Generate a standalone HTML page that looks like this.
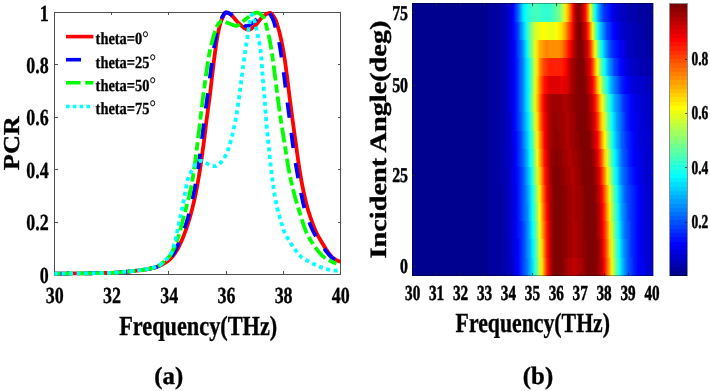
<!DOCTYPE html>
<html><head><meta charset="utf-8"><title>Figure</title>
<style>html,body{margin:0;padding:0;background:#fff;overflow:hidden}svg{display:block;will-change:transform;opacity:0.9999}text{text-rendering:geometricPrecision}</style></head>
<body>
<svg width="710" height="391" viewBox="0 0 710 391">
<rect width="710" height="391" fill="#fff"/>
<defs>
<linearGradient id="r0" x1="0" x2="1" y1="0" y2="0"><stop offset="0.000" stop-color="#00008f"/><stop offset="0.010" stop-color="#00008f"/><stop offset="0.020" stop-color="#00008f"/><stop offset="0.030" stop-color="#00008f"/><stop offset="0.040" stop-color="#00008f"/><stop offset="0.050" stop-color="#00008f"/><stop offset="0.060" stop-color="#00008f"/><stop offset="0.070" stop-color="#00008f"/><stop offset="0.080" stop-color="#00008f"/><stop offset="0.090" stop-color="#00008f"/><stop offset="0.100" stop-color="#00008f"/><stop offset="0.110" stop-color="#00008f"/><stop offset="0.120" stop-color="#00008f"/><stop offset="0.130" stop-color="#00008f"/><stop offset="0.140" stop-color="#00008f"/><stop offset="0.150" stop-color="#00008f"/><stop offset="0.160" stop-color="#00008f"/><stop offset="0.170" stop-color="#00008f"/><stop offset="0.180" stop-color="#00008f"/><stop offset="0.190" stop-color="#00008f"/><stop offset="0.200" stop-color="#00008f"/><stop offset="0.210" stop-color="#00008f"/><stop offset="0.220" stop-color="#00008f"/><stop offset="0.230" stop-color="#00008f"/><stop offset="0.240" stop-color="#00008f"/><stop offset="0.250" stop-color="#00008f"/><stop offset="0.260" stop-color="#00008f"/><stop offset="0.270" stop-color="#00008f"/><stop offset="0.280" stop-color="#00008f"/><stop offset="0.290" stop-color="#00008f"/><stop offset="0.300" stop-color="#00008f"/><stop offset="0.310" stop-color="#00008f"/><stop offset="0.320" stop-color="#00009f"/><stop offset="0.330" stop-color="#00009f"/><stop offset="0.340" stop-color="#00009f"/><stop offset="0.350" stop-color="#00009f"/><stop offset="0.360" stop-color="#00009f"/><stop offset="0.370" stop-color="#00009f"/><stop offset="0.380" stop-color="#0000af"/><stop offset="0.390" stop-color="#0000af"/><stop offset="0.400" stop-color="#0000bf"/><stop offset="0.410" stop-color="#0000bf"/><stop offset="0.420" stop-color="#0000cf"/><stop offset="0.430" stop-color="#0000ef"/><stop offset="0.440" stop-color="#0000ff"/><stop offset="0.450" stop-color="#0020ff"/><stop offset="0.460" stop-color="#0040ff"/><stop offset="0.470" stop-color="#0060ff"/><stop offset="0.480" stop-color="#0080ff"/><stop offset="0.490" stop-color="#00afff"/><stop offset="0.500" stop-color="#00dfff"/><stop offset="0.510" stop-color="#30ffcf"/><stop offset="0.520" stop-color="#70ff8f"/><stop offset="0.530" stop-color="#cfff30"/><stop offset="0.540" stop-color="#ffdf00"/><stop offset="0.550" stop-color="#ff8000"/><stop offset="0.560" stop-color="#ff2000"/><stop offset="0.570" stop-color="#df0000"/><stop offset="0.580" stop-color="#9f0000"/><stop offset="0.590" stop-color="#800000"/><stop offset="0.600" stop-color="#800000"/><stop offset="0.610" stop-color="#800000"/><stop offset="0.620" stop-color="#800000"/><stop offset="0.630" stop-color="#8f0000"/><stop offset="0.640" stop-color="#9f0000"/><stop offset="0.650" stop-color="#af0000"/><stop offset="0.660" stop-color="#af0000"/><stop offset="0.670" stop-color="#bf0000"/><stop offset="0.680" stop-color="#bf0000"/><stop offset="0.690" stop-color="#af0000"/><stop offset="0.700" stop-color="#af0000"/><stop offset="0.710" stop-color="#9f0000"/><stop offset="0.720" stop-color="#8f0000"/><stop offset="0.730" stop-color="#800000"/><stop offset="0.740" stop-color="#800000"/><stop offset="0.750" stop-color="#800000"/><stop offset="0.760" stop-color="#800000"/><stop offset="0.770" stop-color="#8f0000"/><stop offset="0.780" stop-color="#af0000"/><stop offset="0.790" stop-color="#cf0000"/><stop offset="0.800" stop-color="#ff1000"/><stop offset="0.810" stop-color="#ff6000"/><stop offset="0.820" stop-color="#ffaf00"/><stop offset="0.830" stop-color="#efff10"/><stop offset="0.840" stop-color="#9fff60"/><stop offset="0.850" stop-color="#50ffaf"/><stop offset="0.860" stop-color="#10ffef"/><stop offset="0.870" stop-color="#00cfff"/><stop offset="0.880" stop-color="#009fff"/><stop offset="0.890" stop-color="#0070ff"/><stop offset="0.900" stop-color="#0050ff"/><stop offset="0.910" stop-color="#0040ff"/><stop offset="0.920" stop-color="#0020ff"/><stop offset="0.930" stop-color="#0010ff"/><stop offset="0.940" stop-color="#0000ff"/><stop offset="0.950" stop-color="#0000ef"/><stop offset="0.960" stop-color="#0000ef"/><stop offset="0.970" stop-color="#0000df"/><stop offset="0.980" stop-color="#0000cf"/><stop offset="0.990" stop-color="#0000cf"/><stop offset="1.000" stop-color="#0000cf"/></linearGradient>
<linearGradient id="r1" x1="0" x2="1" y1="0" y2="0"><stop offset="0.000" stop-color="#00008f"/><stop offset="0.010" stop-color="#00008f"/><stop offset="0.020" stop-color="#00008f"/><stop offset="0.030" stop-color="#00008f"/><stop offset="0.040" stop-color="#00008f"/><stop offset="0.050" stop-color="#00008f"/><stop offset="0.060" stop-color="#00008f"/><stop offset="0.070" stop-color="#00008f"/><stop offset="0.080" stop-color="#00008f"/><stop offset="0.090" stop-color="#00008f"/><stop offset="0.100" stop-color="#00008f"/><stop offset="0.110" stop-color="#00008f"/><stop offset="0.120" stop-color="#00008f"/><stop offset="0.130" stop-color="#00008f"/><stop offset="0.140" stop-color="#00008f"/><stop offset="0.150" stop-color="#00008f"/><stop offset="0.160" stop-color="#00008f"/><stop offset="0.170" stop-color="#00008f"/><stop offset="0.180" stop-color="#00008f"/><stop offset="0.190" stop-color="#00008f"/><stop offset="0.200" stop-color="#00008f"/><stop offset="0.210" stop-color="#00008f"/><stop offset="0.220" stop-color="#00008f"/><stop offset="0.230" stop-color="#00008f"/><stop offset="0.240" stop-color="#00008f"/><stop offset="0.250" stop-color="#00008f"/><stop offset="0.260" stop-color="#00008f"/><stop offset="0.270" stop-color="#00008f"/><stop offset="0.280" stop-color="#00008f"/><stop offset="0.290" stop-color="#00008f"/><stop offset="0.300" stop-color="#00008f"/><stop offset="0.310" stop-color="#00008f"/><stop offset="0.320" stop-color="#00009f"/><stop offset="0.330" stop-color="#00009f"/><stop offset="0.340" stop-color="#00009f"/><stop offset="0.350" stop-color="#00009f"/><stop offset="0.360" stop-color="#00009f"/><stop offset="0.370" stop-color="#00009f"/><stop offset="0.380" stop-color="#0000af"/><stop offset="0.390" stop-color="#0000af"/><stop offset="0.400" stop-color="#0000bf"/><stop offset="0.410" stop-color="#0000bf"/><stop offset="0.420" stop-color="#0000df"/><stop offset="0.430" stop-color="#0000ef"/><stop offset="0.440" stop-color="#0000ff"/><stop offset="0.450" stop-color="#0020ff"/><stop offset="0.460" stop-color="#0040ff"/><stop offset="0.470" stop-color="#0060ff"/><stop offset="0.480" stop-color="#008fff"/><stop offset="0.490" stop-color="#00afff"/><stop offset="0.500" stop-color="#00efff"/><stop offset="0.510" stop-color="#30ffcf"/><stop offset="0.520" stop-color="#80ff80"/><stop offset="0.530" stop-color="#dfff20"/><stop offset="0.540" stop-color="#ffcf00"/><stop offset="0.550" stop-color="#ff7000"/><stop offset="0.560" stop-color="#ff1000"/><stop offset="0.570" stop-color="#cf0000"/><stop offset="0.580" stop-color="#9f0000"/><stop offset="0.590" stop-color="#800000"/><stop offset="0.600" stop-color="#800000"/><stop offset="0.610" stop-color="#800000"/><stop offset="0.620" stop-color="#800000"/><stop offset="0.630" stop-color="#8f0000"/><stop offset="0.640" stop-color="#8f0000"/><stop offset="0.650" stop-color="#9f0000"/><stop offset="0.660" stop-color="#9f0000"/><stop offset="0.670" stop-color="#af0000"/><stop offset="0.680" stop-color="#af0000"/><stop offset="0.690" stop-color="#9f0000"/><stop offset="0.700" stop-color="#9f0000"/><stop offset="0.710" stop-color="#8f0000"/><stop offset="0.720" stop-color="#8f0000"/><stop offset="0.730" stop-color="#800000"/><stop offset="0.740" stop-color="#800000"/><stop offset="0.750" stop-color="#800000"/><stop offset="0.760" stop-color="#800000"/><stop offset="0.770" stop-color="#8f0000"/><stop offset="0.780" stop-color="#af0000"/><stop offset="0.790" stop-color="#df0000"/><stop offset="0.800" stop-color="#ff2000"/><stop offset="0.810" stop-color="#ff7000"/><stop offset="0.820" stop-color="#ffcf00"/><stop offset="0.830" stop-color="#dfff20"/><stop offset="0.840" stop-color="#8fff70"/><stop offset="0.850" stop-color="#40ffbf"/><stop offset="0.860" stop-color="#00ffff"/><stop offset="0.870" stop-color="#00bfff"/><stop offset="0.880" stop-color="#008fff"/><stop offset="0.890" stop-color="#0070ff"/><stop offset="0.900" stop-color="#0050ff"/><stop offset="0.910" stop-color="#0030ff"/><stop offset="0.920" stop-color="#0020ff"/><stop offset="0.930" stop-color="#0010ff"/><stop offset="0.940" stop-color="#0000ff"/><stop offset="0.950" stop-color="#0000ef"/><stop offset="0.960" stop-color="#0000df"/><stop offset="0.970" stop-color="#0000df"/><stop offset="0.980" stop-color="#0000cf"/><stop offset="0.990" stop-color="#0000cf"/><stop offset="1.000" stop-color="#0000cf"/></linearGradient>
<linearGradient id="r2" x1="0" x2="1" y1="0" y2="0"><stop offset="0.000" stop-color="#00008f"/><stop offset="0.010" stop-color="#00008f"/><stop offset="0.020" stop-color="#00008f"/><stop offset="0.030" stop-color="#00008f"/><stop offset="0.040" stop-color="#00008f"/><stop offset="0.050" stop-color="#00008f"/><stop offset="0.060" stop-color="#00008f"/><stop offset="0.070" stop-color="#00008f"/><stop offset="0.080" stop-color="#00008f"/><stop offset="0.090" stop-color="#00008f"/><stop offset="0.100" stop-color="#00008f"/><stop offset="0.110" stop-color="#00008f"/><stop offset="0.120" stop-color="#00008f"/><stop offset="0.130" stop-color="#00008f"/><stop offset="0.140" stop-color="#00008f"/><stop offset="0.150" stop-color="#00008f"/><stop offset="0.160" stop-color="#00008f"/><stop offset="0.170" stop-color="#00008f"/><stop offset="0.180" stop-color="#00008f"/><stop offset="0.190" stop-color="#00008f"/><stop offset="0.200" stop-color="#00008f"/><stop offset="0.210" stop-color="#00008f"/><stop offset="0.220" stop-color="#00008f"/><stop offset="0.230" stop-color="#00008f"/><stop offset="0.240" stop-color="#00008f"/><stop offset="0.250" stop-color="#00008f"/><stop offset="0.260" stop-color="#00008f"/><stop offset="0.270" stop-color="#00008f"/><stop offset="0.280" stop-color="#00008f"/><stop offset="0.290" stop-color="#00008f"/><stop offset="0.300" stop-color="#00008f"/><stop offset="0.310" stop-color="#00008f"/><stop offset="0.320" stop-color="#00009f"/><stop offset="0.330" stop-color="#00009f"/><stop offset="0.340" stop-color="#00009f"/><stop offset="0.350" stop-color="#00009f"/><stop offset="0.360" stop-color="#00009f"/><stop offset="0.370" stop-color="#00009f"/><stop offset="0.380" stop-color="#0000af"/><stop offset="0.390" stop-color="#0000af"/><stop offset="0.400" stop-color="#0000bf"/><stop offset="0.410" stop-color="#0000cf"/><stop offset="0.420" stop-color="#0000df"/><stop offset="0.430" stop-color="#0000ef"/><stop offset="0.440" stop-color="#0010ff"/><stop offset="0.450" stop-color="#0020ff"/><stop offset="0.460" stop-color="#0040ff"/><stop offset="0.470" stop-color="#0060ff"/><stop offset="0.480" stop-color="#008fff"/><stop offset="0.490" stop-color="#00bfff"/><stop offset="0.500" stop-color="#00ffff"/><stop offset="0.510" stop-color="#40ffbf"/><stop offset="0.520" stop-color="#8fff70"/><stop offset="0.530" stop-color="#efff10"/><stop offset="0.540" stop-color="#ffaf00"/><stop offset="0.550" stop-color="#ff6000"/><stop offset="0.560" stop-color="#ff1000"/><stop offset="0.570" stop-color="#cf0000"/><stop offset="0.580" stop-color="#9f0000"/><stop offset="0.590" stop-color="#800000"/><stop offset="0.600" stop-color="#800000"/><stop offset="0.610" stop-color="#800000"/><stop offset="0.620" stop-color="#800000"/><stop offset="0.630" stop-color="#8f0000"/><stop offset="0.640" stop-color="#8f0000"/><stop offset="0.650" stop-color="#9f0000"/><stop offset="0.660" stop-color="#9f0000"/><stop offset="0.670" stop-color="#af0000"/><stop offset="0.680" stop-color="#af0000"/><stop offset="0.690" stop-color="#9f0000"/><stop offset="0.700" stop-color="#9f0000"/><stop offset="0.710" stop-color="#8f0000"/><stop offset="0.720" stop-color="#800000"/><stop offset="0.730" stop-color="#800000"/><stop offset="0.740" stop-color="#800000"/><stop offset="0.750" stop-color="#800000"/><stop offset="0.760" stop-color="#800000"/><stop offset="0.770" stop-color="#9f0000"/><stop offset="0.780" stop-color="#bf0000"/><stop offset="0.790" stop-color="#ef0000"/><stop offset="0.800" stop-color="#ff3000"/><stop offset="0.810" stop-color="#ff8000"/><stop offset="0.820" stop-color="#ffdf00"/><stop offset="0.830" stop-color="#cfff30"/><stop offset="0.840" stop-color="#70ff8f"/><stop offset="0.850" stop-color="#30ffcf"/><stop offset="0.860" stop-color="#00efff"/><stop offset="0.870" stop-color="#00afff"/><stop offset="0.880" stop-color="#0080ff"/><stop offset="0.890" stop-color="#0060ff"/><stop offset="0.900" stop-color="#0050ff"/><stop offset="0.910" stop-color="#0030ff"/><stop offset="0.920" stop-color="#0020ff"/><stop offset="0.930" stop-color="#0010ff"/><stop offset="0.940" stop-color="#0000ff"/><stop offset="0.950" stop-color="#0000ef"/><stop offset="0.960" stop-color="#0000df"/><stop offset="0.970" stop-color="#0000df"/><stop offset="0.980" stop-color="#0000cf"/><stop offset="0.990" stop-color="#0000cf"/><stop offset="1.000" stop-color="#0000cf"/></linearGradient>
<linearGradient id="r3" x1="0" x2="1" y1="0" y2="0"><stop offset="0.000" stop-color="#00008f"/><stop offset="0.010" stop-color="#00008f"/><stop offset="0.020" stop-color="#00008f"/><stop offset="0.030" stop-color="#00008f"/><stop offset="0.040" stop-color="#00008f"/><stop offset="0.050" stop-color="#00008f"/><stop offset="0.060" stop-color="#00008f"/><stop offset="0.070" stop-color="#00008f"/><stop offset="0.080" stop-color="#00008f"/><stop offset="0.090" stop-color="#00008f"/><stop offset="0.100" stop-color="#00008f"/><stop offset="0.110" stop-color="#00008f"/><stop offset="0.120" stop-color="#00008f"/><stop offset="0.130" stop-color="#00008f"/><stop offset="0.140" stop-color="#00008f"/><stop offset="0.150" stop-color="#00008f"/><stop offset="0.160" stop-color="#00008f"/><stop offset="0.170" stop-color="#00008f"/><stop offset="0.180" stop-color="#00008f"/><stop offset="0.190" stop-color="#00008f"/><stop offset="0.200" stop-color="#00008f"/><stop offset="0.210" stop-color="#00008f"/><stop offset="0.220" stop-color="#00008f"/><stop offset="0.230" stop-color="#00008f"/><stop offset="0.240" stop-color="#00008f"/><stop offset="0.250" stop-color="#00008f"/><stop offset="0.260" stop-color="#00008f"/><stop offset="0.270" stop-color="#00008f"/><stop offset="0.280" stop-color="#00008f"/><stop offset="0.290" stop-color="#00008f"/><stop offset="0.300" stop-color="#00008f"/><stop offset="0.310" stop-color="#00008f"/><stop offset="0.320" stop-color="#00009f"/><stop offset="0.330" stop-color="#00009f"/><stop offset="0.340" stop-color="#00009f"/><stop offset="0.350" stop-color="#00009f"/><stop offset="0.360" stop-color="#00009f"/><stop offset="0.370" stop-color="#00009f"/><stop offset="0.380" stop-color="#0000af"/><stop offset="0.390" stop-color="#0000af"/><stop offset="0.400" stop-color="#0000bf"/><stop offset="0.410" stop-color="#0000cf"/><stop offset="0.420" stop-color="#0000df"/><stop offset="0.430" stop-color="#0000ef"/><stop offset="0.440" stop-color="#0010ff"/><stop offset="0.450" stop-color="#0030ff"/><stop offset="0.460" stop-color="#0050ff"/><stop offset="0.470" stop-color="#0070ff"/><stop offset="0.480" stop-color="#008fff"/><stop offset="0.490" stop-color="#00cfff"/><stop offset="0.500" stop-color="#10ffef"/><stop offset="0.510" stop-color="#50ffaf"/><stop offset="0.520" stop-color="#9fff60"/><stop offset="0.530" stop-color="#ffff00"/><stop offset="0.540" stop-color="#ff9f00"/><stop offset="0.550" stop-color="#ff5000"/><stop offset="0.560" stop-color="#ff0000"/><stop offset="0.570" stop-color="#bf0000"/><stop offset="0.580" stop-color="#9f0000"/><stop offset="0.590" stop-color="#800000"/><stop offset="0.600" stop-color="#800000"/><stop offset="0.610" stop-color="#800000"/><stop offset="0.620" stop-color="#800000"/><stop offset="0.630" stop-color="#8f0000"/><stop offset="0.640" stop-color="#8f0000"/><stop offset="0.650" stop-color="#9f0000"/><stop offset="0.660" stop-color="#9f0000"/><stop offset="0.670" stop-color="#af0000"/><stop offset="0.680" stop-color="#9f0000"/><stop offset="0.690" stop-color="#9f0000"/><stop offset="0.700" stop-color="#9f0000"/><stop offset="0.710" stop-color="#8f0000"/><stop offset="0.720" stop-color="#800000"/><stop offset="0.730" stop-color="#800000"/><stop offset="0.740" stop-color="#800000"/><stop offset="0.750" stop-color="#800000"/><stop offset="0.760" stop-color="#800000"/><stop offset="0.770" stop-color="#9f0000"/><stop offset="0.780" stop-color="#bf0000"/><stop offset="0.790" stop-color="#ff0000"/><stop offset="0.800" stop-color="#ff4000"/><stop offset="0.810" stop-color="#ff9f00"/><stop offset="0.820" stop-color="#ffef00"/><stop offset="0.830" stop-color="#afff50"/><stop offset="0.840" stop-color="#60ff9f"/><stop offset="0.850" stop-color="#20ffdf"/><stop offset="0.860" stop-color="#00dfff"/><stop offset="0.870" stop-color="#009fff"/><stop offset="0.880" stop-color="#0080ff"/><stop offset="0.890" stop-color="#0060ff"/><stop offset="0.900" stop-color="#0040ff"/><stop offset="0.910" stop-color="#0030ff"/><stop offset="0.920" stop-color="#0020ff"/><stop offset="0.930" stop-color="#0010ff"/><stop offset="0.940" stop-color="#0000ff"/><stop offset="0.950" stop-color="#0000ef"/><stop offset="0.960" stop-color="#0000df"/><stop offset="0.970" stop-color="#0000df"/><stop offset="0.980" stop-color="#0000cf"/><stop offset="0.990" stop-color="#0000cf"/><stop offset="1.000" stop-color="#0000cf"/></linearGradient>
<linearGradient id="r4" x1="0" x2="1" y1="0" y2="0"><stop offset="0.000" stop-color="#00008f"/><stop offset="0.010" stop-color="#00008f"/><stop offset="0.020" stop-color="#00008f"/><stop offset="0.030" stop-color="#00008f"/><stop offset="0.040" stop-color="#00008f"/><stop offset="0.050" stop-color="#00008f"/><stop offset="0.060" stop-color="#00008f"/><stop offset="0.070" stop-color="#00008f"/><stop offset="0.080" stop-color="#00008f"/><stop offset="0.090" stop-color="#00008f"/><stop offset="0.100" stop-color="#00008f"/><stop offset="0.110" stop-color="#00008f"/><stop offset="0.120" stop-color="#00008f"/><stop offset="0.130" stop-color="#00008f"/><stop offset="0.140" stop-color="#00008f"/><stop offset="0.150" stop-color="#00008f"/><stop offset="0.160" stop-color="#00008f"/><stop offset="0.170" stop-color="#00008f"/><stop offset="0.180" stop-color="#00008f"/><stop offset="0.190" stop-color="#00008f"/><stop offset="0.200" stop-color="#00008f"/><stop offset="0.210" stop-color="#00008f"/><stop offset="0.220" stop-color="#00008f"/><stop offset="0.230" stop-color="#00008f"/><stop offset="0.240" stop-color="#00008f"/><stop offset="0.250" stop-color="#00008f"/><stop offset="0.260" stop-color="#00008f"/><stop offset="0.270" stop-color="#00008f"/><stop offset="0.280" stop-color="#00008f"/><stop offset="0.290" stop-color="#00008f"/><stop offset="0.300" stop-color="#00008f"/><stop offset="0.310" stop-color="#00008f"/><stop offset="0.320" stop-color="#00009f"/><stop offset="0.330" stop-color="#00009f"/><stop offset="0.340" stop-color="#00009f"/><stop offset="0.350" stop-color="#00009f"/><stop offset="0.360" stop-color="#00009f"/><stop offset="0.370" stop-color="#00009f"/><stop offset="0.380" stop-color="#0000af"/><stop offset="0.390" stop-color="#0000af"/><stop offset="0.400" stop-color="#0000bf"/><stop offset="0.410" stop-color="#0000cf"/><stop offset="0.420" stop-color="#0000df"/><stop offset="0.430" stop-color="#0000ef"/><stop offset="0.440" stop-color="#0010ff"/><stop offset="0.450" stop-color="#0030ff"/><stop offset="0.460" stop-color="#0050ff"/><stop offset="0.470" stop-color="#0070ff"/><stop offset="0.480" stop-color="#009fff"/><stop offset="0.490" stop-color="#00cfff"/><stop offset="0.500" stop-color="#10ffef"/><stop offset="0.510" stop-color="#60ff9f"/><stop offset="0.520" stop-color="#afff50"/><stop offset="0.530" stop-color="#ffef00"/><stop offset="0.540" stop-color="#ff8f00"/><stop offset="0.550" stop-color="#ff4000"/><stop offset="0.560" stop-color="#ef0000"/><stop offset="0.570" stop-color="#bf0000"/><stop offset="0.580" stop-color="#9f0000"/><stop offset="0.590" stop-color="#800000"/><stop offset="0.600" stop-color="#800000"/><stop offset="0.610" stop-color="#800000"/><stop offset="0.620" stop-color="#800000"/><stop offset="0.630" stop-color="#8f0000"/><stop offset="0.640" stop-color="#8f0000"/><stop offset="0.650" stop-color="#9f0000"/><stop offset="0.660" stop-color="#9f0000"/><stop offset="0.670" stop-color="#af0000"/><stop offset="0.680" stop-color="#9f0000"/><stop offset="0.690" stop-color="#9f0000"/><stop offset="0.700" stop-color="#9f0000"/><stop offset="0.710" stop-color="#8f0000"/><stop offset="0.720" stop-color="#800000"/><stop offset="0.730" stop-color="#800000"/><stop offset="0.740" stop-color="#800000"/><stop offset="0.750" stop-color="#800000"/><stop offset="0.760" stop-color="#8f0000"/><stop offset="0.770" stop-color="#af0000"/><stop offset="0.780" stop-color="#cf0000"/><stop offset="0.790" stop-color="#ff1000"/><stop offset="0.800" stop-color="#ff6000"/><stop offset="0.810" stop-color="#ffaf00"/><stop offset="0.820" stop-color="#efff10"/><stop offset="0.830" stop-color="#9fff60"/><stop offset="0.840" stop-color="#50ffaf"/><stop offset="0.850" stop-color="#10ffef"/><stop offset="0.860" stop-color="#00cfff"/><stop offset="0.870" stop-color="#009fff"/><stop offset="0.880" stop-color="#0070ff"/><stop offset="0.890" stop-color="#0050ff"/><stop offset="0.900" stop-color="#0040ff"/><stop offset="0.910" stop-color="#0030ff"/><stop offset="0.920" stop-color="#0020ff"/><stop offset="0.930" stop-color="#0010ff"/><stop offset="0.940" stop-color="#0000ff"/><stop offset="0.950" stop-color="#0000ef"/><stop offset="0.960" stop-color="#0000df"/><stop offset="0.970" stop-color="#0000df"/><stop offset="0.980" stop-color="#0000cf"/><stop offset="0.990" stop-color="#0000cf"/><stop offset="1.000" stop-color="#0000cf"/></linearGradient>
<linearGradient id="r5" x1="0" x2="1" y1="0" y2="0"><stop offset="0.000" stop-color="#00008f"/><stop offset="0.010" stop-color="#00008f"/><stop offset="0.020" stop-color="#00008f"/><stop offset="0.030" stop-color="#00008f"/><stop offset="0.040" stop-color="#00008f"/><stop offset="0.050" stop-color="#00008f"/><stop offset="0.060" stop-color="#00008f"/><stop offset="0.070" stop-color="#00008f"/><stop offset="0.080" stop-color="#00008f"/><stop offset="0.090" stop-color="#00008f"/><stop offset="0.100" stop-color="#00008f"/><stop offset="0.110" stop-color="#00008f"/><stop offset="0.120" stop-color="#00008f"/><stop offset="0.130" stop-color="#00008f"/><stop offset="0.140" stop-color="#00008f"/><stop offset="0.150" stop-color="#00008f"/><stop offset="0.160" stop-color="#00008f"/><stop offset="0.170" stop-color="#00008f"/><stop offset="0.180" stop-color="#00008f"/><stop offset="0.190" stop-color="#00008f"/><stop offset="0.200" stop-color="#00008f"/><stop offset="0.210" stop-color="#00008f"/><stop offset="0.220" stop-color="#00008f"/><stop offset="0.230" stop-color="#00008f"/><stop offset="0.240" stop-color="#00008f"/><stop offset="0.250" stop-color="#00008f"/><stop offset="0.260" stop-color="#00008f"/><stop offset="0.270" stop-color="#00008f"/><stop offset="0.280" stop-color="#00008f"/><stop offset="0.290" stop-color="#00008f"/><stop offset="0.300" stop-color="#00008f"/><stop offset="0.310" stop-color="#00008f"/><stop offset="0.320" stop-color="#00009f"/><stop offset="0.330" stop-color="#00009f"/><stop offset="0.340" stop-color="#00009f"/><stop offset="0.350" stop-color="#00009f"/><stop offset="0.360" stop-color="#00009f"/><stop offset="0.370" stop-color="#0000af"/><stop offset="0.380" stop-color="#0000af"/><stop offset="0.390" stop-color="#0000af"/><stop offset="0.400" stop-color="#0000bf"/><stop offset="0.410" stop-color="#0000cf"/><stop offset="0.420" stop-color="#0000df"/><stop offset="0.430" stop-color="#0000ff"/><stop offset="0.440" stop-color="#0010ff"/><stop offset="0.450" stop-color="#0030ff"/><stop offset="0.460" stop-color="#0050ff"/><stop offset="0.470" stop-color="#0080ff"/><stop offset="0.480" stop-color="#00afff"/><stop offset="0.490" stop-color="#00dfff"/><stop offset="0.500" stop-color="#30ffcf"/><stop offset="0.510" stop-color="#80ff80"/><stop offset="0.520" stop-color="#cfff30"/><stop offset="0.530" stop-color="#ffcf00"/><stop offset="0.540" stop-color="#ff8000"/><stop offset="0.550" stop-color="#ff2000"/><stop offset="0.560" stop-color="#ef0000"/><stop offset="0.570" stop-color="#af0000"/><stop offset="0.580" stop-color="#8f0000"/><stop offset="0.590" stop-color="#800000"/><stop offset="0.600" stop-color="#800000"/><stop offset="0.610" stop-color="#800000"/><stop offset="0.620" stop-color="#8f0000"/><stop offset="0.630" stop-color="#8f0000"/><stop offset="0.640" stop-color="#9f0000"/><stop offset="0.650" stop-color="#9f0000"/><stop offset="0.660" stop-color="#af0000"/><stop offset="0.670" stop-color="#af0000"/><stop offset="0.680" stop-color="#9f0000"/><stop offset="0.690" stop-color="#9f0000"/><stop offset="0.700" stop-color="#8f0000"/><stop offset="0.710" stop-color="#800000"/><stop offset="0.720" stop-color="#800000"/><stop offset="0.730" stop-color="#800000"/><stop offset="0.740" stop-color="#800000"/><stop offset="0.750" stop-color="#800000"/><stop offset="0.760" stop-color="#9f0000"/><stop offset="0.770" stop-color="#bf0000"/><stop offset="0.780" stop-color="#ef0000"/><stop offset="0.790" stop-color="#ff4000"/><stop offset="0.800" stop-color="#ff8f00"/><stop offset="0.810" stop-color="#ffef00"/><stop offset="0.820" stop-color="#bfff40"/><stop offset="0.830" stop-color="#70ff8f"/><stop offset="0.840" stop-color="#20ffdf"/><stop offset="0.850" stop-color="#00efff"/><stop offset="0.860" stop-color="#00afff"/><stop offset="0.870" stop-color="#0080ff"/><stop offset="0.880" stop-color="#0060ff"/><stop offset="0.890" stop-color="#0050ff"/><stop offset="0.900" stop-color="#0030ff"/><stop offset="0.910" stop-color="#0020ff"/><stop offset="0.920" stop-color="#0010ff"/><stop offset="0.930" stop-color="#0000ff"/><stop offset="0.940" stop-color="#0000ef"/><stop offset="0.950" stop-color="#0000df"/><stop offset="0.960" stop-color="#0000df"/><stop offset="0.970" stop-color="#0000cf"/><stop offset="0.980" stop-color="#0000cf"/><stop offset="0.990" stop-color="#0000cf"/><stop offset="1.000" stop-color="#0000cf"/></linearGradient>
<linearGradient id="r6" x1="0" x2="1" y1="0" y2="0"><stop offset="0.000" stop-color="#00008f"/><stop offset="0.010" stop-color="#00008f"/><stop offset="0.020" stop-color="#00008f"/><stop offset="0.030" stop-color="#00008f"/><stop offset="0.040" stop-color="#00008f"/><stop offset="0.050" stop-color="#00008f"/><stop offset="0.060" stop-color="#00008f"/><stop offset="0.070" stop-color="#00008f"/><stop offset="0.080" stop-color="#00008f"/><stop offset="0.090" stop-color="#00008f"/><stop offset="0.100" stop-color="#00008f"/><stop offset="0.110" stop-color="#00008f"/><stop offset="0.120" stop-color="#00008f"/><stop offset="0.130" stop-color="#00008f"/><stop offset="0.140" stop-color="#00008f"/><stop offset="0.150" stop-color="#00008f"/><stop offset="0.160" stop-color="#00008f"/><stop offset="0.170" stop-color="#00008f"/><stop offset="0.180" stop-color="#00008f"/><stop offset="0.190" stop-color="#00008f"/><stop offset="0.200" stop-color="#00008f"/><stop offset="0.210" stop-color="#00008f"/><stop offset="0.220" stop-color="#00008f"/><stop offset="0.230" stop-color="#00008f"/><stop offset="0.240" stop-color="#00008f"/><stop offset="0.250" stop-color="#00008f"/><stop offset="0.260" stop-color="#00008f"/><stop offset="0.270" stop-color="#00008f"/><stop offset="0.280" stop-color="#00008f"/><stop offset="0.290" stop-color="#00008f"/><stop offset="0.300" stop-color="#00008f"/><stop offset="0.310" stop-color="#00008f"/><stop offset="0.320" stop-color="#00009f"/><stop offset="0.330" stop-color="#00009f"/><stop offset="0.340" stop-color="#00009f"/><stop offset="0.350" stop-color="#00009f"/><stop offset="0.360" stop-color="#00009f"/><stop offset="0.370" stop-color="#0000af"/><stop offset="0.380" stop-color="#0000af"/><stop offset="0.390" stop-color="#0000bf"/><stop offset="0.400" stop-color="#0000bf"/><stop offset="0.410" stop-color="#0000cf"/><stop offset="0.420" stop-color="#0000df"/><stop offset="0.430" stop-color="#0000ff"/><stop offset="0.440" stop-color="#0020ff"/><stop offset="0.450" stop-color="#0040ff"/><stop offset="0.460" stop-color="#0060ff"/><stop offset="0.470" stop-color="#008fff"/><stop offset="0.480" stop-color="#00bfff"/><stop offset="0.490" stop-color="#00ffff"/><stop offset="0.500" stop-color="#40ffbf"/><stop offset="0.510" stop-color="#8fff70"/><stop offset="0.520" stop-color="#efff10"/><stop offset="0.530" stop-color="#ffaf00"/><stop offset="0.540" stop-color="#ff6000"/><stop offset="0.550" stop-color="#ff1000"/><stop offset="0.560" stop-color="#df0000"/><stop offset="0.570" stop-color="#af0000"/><stop offset="0.580" stop-color="#8f0000"/><stop offset="0.590" stop-color="#8f0000"/><stop offset="0.600" stop-color="#800000"/><stop offset="0.610" stop-color="#8f0000"/><stop offset="0.620" stop-color="#8f0000"/><stop offset="0.630" stop-color="#9f0000"/><stop offset="0.640" stop-color="#9f0000"/><stop offset="0.650" stop-color="#af0000"/><stop offset="0.660" stop-color="#af0000"/><stop offset="0.670" stop-color="#9f0000"/><stop offset="0.680" stop-color="#9f0000"/><stop offset="0.690" stop-color="#8f0000"/><stop offset="0.700" stop-color="#8f0000"/><stop offset="0.710" stop-color="#800000"/><stop offset="0.720" stop-color="#800000"/><stop offset="0.730" stop-color="#800000"/><stop offset="0.740" stop-color="#800000"/><stop offset="0.750" stop-color="#8f0000"/><stop offset="0.760" stop-color="#af0000"/><stop offset="0.770" stop-color="#df0000"/><stop offset="0.780" stop-color="#ff2000"/><stop offset="0.790" stop-color="#ff7000"/><stop offset="0.800" stop-color="#ffcf00"/><stop offset="0.810" stop-color="#dfff20"/><stop offset="0.820" stop-color="#8fff70"/><stop offset="0.830" stop-color="#40ffbf"/><stop offset="0.840" stop-color="#00ffff"/><stop offset="0.850" stop-color="#00cfff"/><stop offset="0.860" stop-color="#009fff"/><stop offset="0.870" stop-color="#0070ff"/><stop offset="0.880" stop-color="#0050ff"/><stop offset="0.890" stop-color="#0040ff"/><stop offset="0.900" stop-color="#0020ff"/><stop offset="0.910" stop-color="#0010ff"/><stop offset="0.920" stop-color="#0000ff"/><stop offset="0.930" stop-color="#0000ef"/><stop offset="0.940" stop-color="#0000ef"/><stop offset="0.950" stop-color="#0000df"/><stop offset="0.960" stop-color="#0000df"/><stop offset="0.970" stop-color="#0000cf"/><stop offset="0.980" stop-color="#0000cf"/><stop offset="0.990" stop-color="#0000cf"/><stop offset="1.000" stop-color="#0000cf"/></linearGradient>
<linearGradient id="r7" x1="0" x2="1" y1="0" y2="0"><stop offset="0.000" stop-color="#00008f"/><stop offset="0.010" stop-color="#00008f"/><stop offset="0.020" stop-color="#00008f"/><stop offset="0.030" stop-color="#00008f"/><stop offset="0.040" stop-color="#00008f"/><stop offset="0.050" stop-color="#00008f"/><stop offset="0.060" stop-color="#00008f"/><stop offset="0.070" stop-color="#00008f"/><stop offset="0.080" stop-color="#00008f"/><stop offset="0.090" stop-color="#00008f"/><stop offset="0.100" stop-color="#00008f"/><stop offset="0.110" stop-color="#00008f"/><stop offset="0.120" stop-color="#00008f"/><stop offset="0.130" stop-color="#00008f"/><stop offset="0.140" stop-color="#00008f"/><stop offset="0.150" stop-color="#00008f"/><stop offset="0.160" stop-color="#00008f"/><stop offset="0.170" stop-color="#00008f"/><stop offset="0.180" stop-color="#00008f"/><stop offset="0.190" stop-color="#00008f"/><stop offset="0.200" stop-color="#00008f"/><stop offset="0.210" stop-color="#00008f"/><stop offset="0.220" stop-color="#00008f"/><stop offset="0.230" stop-color="#00008f"/><stop offset="0.240" stop-color="#00008f"/><stop offset="0.250" stop-color="#00008f"/><stop offset="0.260" stop-color="#00008f"/><stop offset="0.270" stop-color="#00008f"/><stop offset="0.280" stop-color="#00008f"/><stop offset="0.290" stop-color="#00008f"/><stop offset="0.300" stop-color="#00008f"/><stop offset="0.310" stop-color="#00008f"/><stop offset="0.320" stop-color="#00009f"/><stop offset="0.330" stop-color="#00009f"/><stop offset="0.340" stop-color="#00009f"/><stop offset="0.350" stop-color="#00009f"/><stop offset="0.360" stop-color="#00009f"/><stop offset="0.370" stop-color="#0000af"/><stop offset="0.380" stop-color="#0000af"/><stop offset="0.390" stop-color="#0000bf"/><stop offset="0.400" stop-color="#0000bf"/><stop offset="0.410" stop-color="#0000cf"/><stop offset="0.420" stop-color="#0000ef"/><stop offset="0.430" stop-color="#0000ff"/><stop offset="0.440" stop-color="#0020ff"/><stop offset="0.450" stop-color="#0040ff"/><stop offset="0.460" stop-color="#0070ff"/><stop offset="0.470" stop-color="#009fff"/><stop offset="0.480" stop-color="#00cfff"/><stop offset="0.490" stop-color="#10ffef"/><stop offset="0.500" stop-color="#50ffaf"/><stop offset="0.510" stop-color="#afff50"/><stop offset="0.520" stop-color="#ffef00"/><stop offset="0.530" stop-color="#ff9f00"/><stop offset="0.540" stop-color="#ff5000"/><stop offset="0.550" stop-color="#ff0000"/><stop offset="0.560" stop-color="#cf0000"/><stop offset="0.570" stop-color="#af0000"/><stop offset="0.580" stop-color="#9f0000"/><stop offset="0.590" stop-color="#8f0000"/><stop offset="0.600" stop-color="#8f0000"/><stop offset="0.610" stop-color="#8f0000"/><stop offset="0.620" stop-color="#9f0000"/><stop offset="0.630" stop-color="#9f0000"/><stop offset="0.640" stop-color="#af0000"/><stop offset="0.650" stop-color="#af0000"/><stop offset="0.660" stop-color="#9f0000"/><stop offset="0.670" stop-color="#9f0000"/><stop offset="0.680" stop-color="#8f0000"/><stop offset="0.690" stop-color="#8f0000"/><stop offset="0.700" stop-color="#800000"/><stop offset="0.710" stop-color="#800000"/><stop offset="0.720" stop-color="#800000"/><stop offset="0.730" stop-color="#800000"/><stop offset="0.740" stop-color="#8f0000"/><stop offset="0.750" stop-color="#af0000"/><stop offset="0.760" stop-color="#cf0000"/><stop offset="0.770" stop-color="#ff0000"/><stop offset="0.780" stop-color="#ff5000"/><stop offset="0.790" stop-color="#ffaf00"/><stop offset="0.800" stop-color="#ffff00"/><stop offset="0.810" stop-color="#afff50"/><stop offset="0.820" stop-color="#60ff9f"/><stop offset="0.830" stop-color="#20ffdf"/><stop offset="0.840" stop-color="#00dfff"/><stop offset="0.850" stop-color="#00afff"/><stop offset="0.860" stop-color="#008fff"/><stop offset="0.870" stop-color="#0060ff"/><stop offset="0.880" stop-color="#0050ff"/><stop offset="0.890" stop-color="#0030ff"/><stop offset="0.900" stop-color="#0020ff"/><stop offset="0.910" stop-color="#0010ff"/><stop offset="0.920" stop-color="#0000ff"/><stop offset="0.930" stop-color="#0000ef"/><stop offset="0.940" stop-color="#0000df"/><stop offset="0.950" stop-color="#0000df"/><stop offset="0.960" stop-color="#0000cf"/><stop offset="0.970" stop-color="#0000cf"/><stop offset="0.980" stop-color="#0000cf"/><stop offset="0.990" stop-color="#0000cf"/><stop offset="1.000" stop-color="#0000bf"/></linearGradient>
<linearGradient id="r8" x1="0" x2="1" y1="0" y2="0"><stop offset="0.000" stop-color="#00008f"/><stop offset="0.010" stop-color="#00008f"/><stop offset="0.020" stop-color="#00008f"/><stop offset="0.030" stop-color="#00008f"/><stop offset="0.040" stop-color="#00008f"/><stop offset="0.050" stop-color="#00008f"/><stop offset="0.060" stop-color="#00008f"/><stop offset="0.070" stop-color="#00008f"/><stop offset="0.080" stop-color="#00008f"/><stop offset="0.090" stop-color="#00008f"/><stop offset="0.100" stop-color="#00008f"/><stop offset="0.110" stop-color="#00008f"/><stop offset="0.120" stop-color="#00008f"/><stop offset="0.130" stop-color="#00008f"/><stop offset="0.140" stop-color="#00008f"/><stop offset="0.150" stop-color="#00008f"/><stop offset="0.160" stop-color="#00008f"/><stop offset="0.170" stop-color="#00008f"/><stop offset="0.180" stop-color="#00008f"/><stop offset="0.190" stop-color="#00008f"/><stop offset="0.200" stop-color="#00008f"/><stop offset="0.210" stop-color="#00008f"/><stop offset="0.220" stop-color="#00008f"/><stop offset="0.230" stop-color="#00008f"/><stop offset="0.240" stop-color="#00008f"/><stop offset="0.250" stop-color="#00008f"/><stop offset="0.260" stop-color="#00008f"/><stop offset="0.270" stop-color="#00008f"/><stop offset="0.280" stop-color="#00008f"/><stop offset="0.290" stop-color="#00008f"/><stop offset="0.300" stop-color="#00008f"/><stop offset="0.310" stop-color="#00008f"/><stop offset="0.320" stop-color="#00009f"/><stop offset="0.330" stop-color="#00009f"/><stop offset="0.340" stop-color="#00009f"/><stop offset="0.350" stop-color="#00009f"/><stop offset="0.360" stop-color="#00009f"/><stop offset="0.370" stop-color="#0000af"/><stop offset="0.380" stop-color="#0000af"/><stop offset="0.390" stop-color="#0000bf"/><stop offset="0.400" stop-color="#0000bf"/><stop offset="0.410" stop-color="#0000cf"/><stop offset="0.420" stop-color="#0000ef"/><stop offset="0.430" stop-color="#0010ff"/><stop offset="0.440" stop-color="#0030ff"/><stop offset="0.450" stop-color="#0050ff"/><stop offset="0.460" stop-color="#0080ff"/><stop offset="0.470" stop-color="#00afff"/><stop offset="0.480" stop-color="#00dfff"/><stop offset="0.490" stop-color="#20ffdf"/><stop offset="0.500" stop-color="#70ff8f"/><stop offset="0.510" stop-color="#cfff30"/><stop offset="0.520" stop-color="#ffdf00"/><stop offset="0.530" stop-color="#ff8000"/><stop offset="0.540" stop-color="#ff3000"/><stop offset="0.550" stop-color="#ff0000"/><stop offset="0.560" stop-color="#cf0000"/><stop offset="0.570" stop-color="#af0000"/><stop offset="0.580" stop-color="#9f0000"/><stop offset="0.590" stop-color="#8f0000"/><stop offset="0.600" stop-color="#8f0000"/><stop offset="0.610" stop-color="#9f0000"/><stop offset="0.620" stop-color="#9f0000"/><stop offset="0.630" stop-color="#9f0000"/><stop offset="0.640" stop-color="#af0000"/><stop offset="0.650" stop-color="#af0000"/><stop offset="0.660" stop-color="#9f0000"/><stop offset="0.670" stop-color="#9f0000"/><stop offset="0.680" stop-color="#8f0000"/><stop offset="0.690" stop-color="#800000"/><stop offset="0.700" stop-color="#800000"/><stop offset="0.710" stop-color="#800000"/><stop offset="0.720" stop-color="#800000"/><stop offset="0.730" stop-color="#8f0000"/><stop offset="0.740" stop-color="#9f0000"/><stop offset="0.750" stop-color="#bf0000"/><stop offset="0.760" stop-color="#ef0000"/><stop offset="0.770" stop-color="#ff3000"/><stop offset="0.780" stop-color="#ff8f00"/><stop offset="0.790" stop-color="#ffdf00"/><stop offset="0.800" stop-color="#cfff30"/><stop offset="0.810" stop-color="#80ff80"/><stop offset="0.820" stop-color="#40ffbf"/><stop offset="0.830" stop-color="#00ffff"/><stop offset="0.840" stop-color="#00cfff"/><stop offset="0.850" stop-color="#009fff"/><stop offset="0.860" stop-color="#0080ff"/><stop offset="0.870" stop-color="#0060ff"/><stop offset="0.880" stop-color="#0040ff"/><stop offset="0.890" stop-color="#0020ff"/><stop offset="0.900" stop-color="#0010ff"/><stop offset="0.910" stop-color="#0000ff"/><stop offset="0.920" stop-color="#0000ef"/><stop offset="0.930" stop-color="#0000ef"/><stop offset="0.940" stop-color="#0000df"/><stop offset="0.950" stop-color="#0000df"/><stop offset="0.960" stop-color="#0000cf"/><stop offset="0.970" stop-color="#0000cf"/><stop offset="0.980" stop-color="#0000cf"/><stop offset="0.990" stop-color="#0000bf"/><stop offset="1.000" stop-color="#0000bf"/></linearGradient>
<linearGradient id="r9" x1="0" x2="1" y1="0" y2="0"><stop offset="0.000" stop-color="#00008f"/><stop offset="0.010" stop-color="#00008f"/><stop offset="0.020" stop-color="#00008f"/><stop offset="0.030" stop-color="#00008f"/><stop offset="0.040" stop-color="#00008f"/><stop offset="0.050" stop-color="#00008f"/><stop offset="0.060" stop-color="#00008f"/><stop offset="0.070" stop-color="#00008f"/><stop offset="0.080" stop-color="#00008f"/><stop offset="0.090" stop-color="#00008f"/><stop offset="0.100" stop-color="#00008f"/><stop offset="0.110" stop-color="#00008f"/><stop offset="0.120" stop-color="#00008f"/><stop offset="0.130" stop-color="#00008f"/><stop offset="0.140" stop-color="#00008f"/><stop offset="0.150" stop-color="#00008f"/><stop offset="0.160" stop-color="#00008f"/><stop offset="0.170" stop-color="#00008f"/><stop offset="0.180" stop-color="#00008f"/><stop offset="0.190" stop-color="#00008f"/><stop offset="0.200" stop-color="#00008f"/><stop offset="0.210" stop-color="#00008f"/><stop offset="0.220" stop-color="#00008f"/><stop offset="0.230" stop-color="#00008f"/><stop offset="0.240" stop-color="#00008f"/><stop offset="0.250" stop-color="#00008f"/><stop offset="0.260" stop-color="#00008f"/><stop offset="0.270" stop-color="#00008f"/><stop offset="0.280" stop-color="#00008f"/><stop offset="0.290" stop-color="#00008f"/><stop offset="0.300" stop-color="#00008f"/><stop offset="0.310" stop-color="#00008f"/><stop offset="0.320" stop-color="#00009f"/><stop offset="0.330" stop-color="#00009f"/><stop offset="0.340" stop-color="#00009f"/><stop offset="0.350" stop-color="#00009f"/><stop offset="0.360" stop-color="#00009f"/><stop offset="0.370" stop-color="#0000af"/><stop offset="0.380" stop-color="#0000af"/><stop offset="0.390" stop-color="#0000bf"/><stop offset="0.400" stop-color="#0000cf"/><stop offset="0.410" stop-color="#0000df"/><stop offset="0.420" stop-color="#0000ef"/><stop offset="0.430" stop-color="#0010ff"/><stop offset="0.440" stop-color="#0030ff"/><stop offset="0.450" stop-color="#0060ff"/><stop offset="0.460" stop-color="#0080ff"/><stop offset="0.470" stop-color="#00bfff"/><stop offset="0.480" stop-color="#00efff"/><stop offset="0.490" stop-color="#40ffbf"/><stop offset="0.500" stop-color="#8fff70"/><stop offset="0.510" stop-color="#dfff20"/><stop offset="0.520" stop-color="#ffbf00"/><stop offset="0.530" stop-color="#ff7000"/><stop offset="0.540" stop-color="#ff2000"/><stop offset="0.550" stop-color="#ef0000"/><stop offset="0.560" stop-color="#bf0000"/><stop offset="0.570" stop-color="#af0000"/><stop offset="0.580" stop-color="#9f0000"/><stop offset="0.590" stop-color="#9f0000"/><stop offset="0.600" stop-color="#9f0000"/><stop offset="0.610" stop-color="#9f0000"/><stop offset="0.620" stop-color="#9f0000"/><stop offset="0.630" stop-color="#af0000"/><stop offset="0.640" stop-color="#af0000"/><stop offset="0.650" stop-color="#9f0000"/><stop offset="0.660" stop-color="#9f0000"/><stop offset="0.670" stop-color="#8f0000"/><stop offset="0.680" stop-color="#8f0000"/><stop offset="0.690" stop-color="#800000"/><stop offset="0.700" stop-color="#800000"/><stop offset="0.710" stop-color="#800000"/><stop offset="0.720" stop-color="#800000"/><stop offset="0.730" stop-color="#8f0000"/><stop offset="0.740" stop-color="#af0000"/><stop offset="0.750" stop-color="#cf0000"/><stop offset="0.760" stop-color="#ff1000"/><stop offset="0.770" stop-color="#ff6000"/><stop offset="0.780" stop-color="#ffbf00"/><stop offset="0.790" stop-color="#efff10"/><stop offset="0.800" stop-color="#9fff60"/><stop offset="0.810" stop-color="#50ffaf"/><stop offset="0.820" stop-color="#20ffdf"/><stop offset="0.830" stop-color="#00dfff"/><stop offset="0.840" stop-color="#00afff"/><stop offset="0.850" stop-color="#008fff"/><stop offset="0.860" stop-color="#0070ff"/><stop offset="0.870" stop-color="#0050ff"/><stop offset="0.880" stop-color="#0030ff"/><stop offset="0.890" stop-color="#0020ff"/><stop offset="0.900" stop-color="#0010ff"/><stop offset="0.910" stop-color="#0000ff"/><stop offset="0.920" stop-color="#0000ef"/><stop offset="0.930" stop-color="#0000df"/><stop offset="0.940" stop-color="#0000df"/><stop offset="0.950" stop-color="#0000cf"/><stop offset="0.960" stop-color="#0000cf"/><stop offset="0.970" stop-color="#0000cf"/><stop offset="0.980" stop-color="#0000cf"/><stop offset="0.990" stop-color="#0000bf"/><stop offset="1.000" stop-color="#0000bf"/></linearGradient>
<linearGradient id="r10" x1="0" x2="1" y1="0" y2="0"><stop offset="0.000" stop-color="#00008f"/><stop offset="0.010" stop-color="#00008f"/><stop offset="0.020" stop-color="#00008f"/><stop offset="0.030" stop-color="#00008f"/><stop offset="0.040" stop-color="#00008f"/><stop offset="0.050" stop-color="#00008f"/><stop offset="0.060" stop-color="#00008f"/><stop offset="0.070" stop-color="#00008f"/><stop offset="0.080" stop-color="#00008f"/><stop offset="0.090" stop-color="#00008f"/><stop offset="0.100" stop-color="#00008f"/><stop offset="0.110" stop-color="#00008f"/><stop offset="0.120" stop-color="#00008f"/><stop offset="0.130" stop-color="#00008f"/><stop offset="0.140" stop-color="#00008f"/><stop offset="0.150" stop-color="#00008f"/><stop offset="0.160" stop-color="#00008f"/><stop offset="0.170" stop-color="#00008f"/><stop offset="0.180" stop-color="#00008f"/><stop offset="0.190" stop-color="#00008f"/><stop offset="0.200" stop-color="#00008f"/><stop offset="0.210" stop-color="#00008f"/><stop offset="0.220" stop-color="#00008f"/><stop offset="0.230" stop-color="#00008f"/><stop offset="0.240" stop-color="#00008f"/><stop offset="0.250" stop-color="#00008f"/><stop offset="0.260" stop-color="#00008f"/><stop offset="0.270" stop-color="#00008f"/><stop offset="0.280" stop-color="#00008f"/><stop offset="0.290" stop-color="#00008f"/><stop offset="0.300" stop-color="#00008f"/><stop offset="0.310" stop-color="#00008f"/><stop offset="0.320" stop-color="#00009f"/><stop offset="0.330" stop-color="#00009f"/><stop offset="0.340" stop-color="#00009f"/><stop offset="0.350" stop-color="#00009f"/><stop offset="0.360" stop-color="#00009f"/><stop offset="0.370" stop-color="#0000af"/><stop offset="0.380" stop-color="#0000af"/><stop offset="0.390" stop-color="#0000bf"/><stop offset="0.400" stop-color="#0000cf"/><stop offset="0.410" stop-color="#0000df"/><stop offset="0.420" stop-color="#0000ef"/><stop offset="0.430" stop-color="#0010ff"/><stop offset="0.440" stop-color="#0030ff"/><stop offset="0.450" stop-color="#0060ff"/><stop offset="0.460" stop-color="#0080ff"/><stop offset="0.470" stop-color="#00bfff"/><stop offset="0.480" stop-color="#00efff"/><stop offset="0.490" stop-color="#30ffcf"/><stop offset="0.500" stop-color="#80ff80"/><stop offset="0.510" stop-color="#dfff20"/><stop offset="0.520" stop-color="#ffcf00"/><stop offset="0.530" stop-color="#ff8000"/><stop offset="0.540" stop-color="#ff4000"/><stop offset="0.550" stop-color="#ff1000"/><stop offset="0.560" stop-color="#ff0000"/><stop offset="0.570" stop-color="#df0000"/><stop offset="0.580" stop-color="#df0000"/><stop offset="0.590" stop-color="#df0000"/><stop offset="0.600" stop-color="#df0000"/><stop offset="0.610" stop-color="#df0000"/><stop offset="0.620" stop-color="#ef0000"/><stop offset="0.630" stop-color="#df0000"/><stop offset="0.640" stop-color="#df0000"/><stop offset="0.650" stop-color="#cf0000"/><stop offset="0.660" stop-color="#af0000"/><stop offset="0.670" stop-color="#9f0000"/><stop offset="0.680" stop-color="#8f0000"/><stop offset="0.690" stop-color="#800000"/><stop offset="0.700" stop-color="#800000"/><stop offset="0.710" stop-color="#800000"/><stop offset="0.720" stop-color="#8f0000"/><stop offset="0.730" stop-color="#af0000"/><stop offset="0.740" stop-color="#cf0000"/><stop offset="0.750" stop-color="#ff0000"/><stop offset="0.760" stop-color="#ff5000"/><stop offset="0.770" stop-color="#ffbf00"/><stop offset="0.780" stop-color="#efff10"/><stop offset="0.790" stop-color="#8fff70"/><stop offset="0.800" stop-color="#50ffaf"/><stop offset="0.810" stop-color="#10ffef"/><stop offset="0.820" stop-color="#00cfff"/><stop offset="0.830" stop-color="#009fff"/><stop offset="0.840" stop-color="#0080ff"/><stop offset="0.850" stop-color="#0060ff"/><stop offset="0.860" stop-color="#0040ff"/><stop offset="0.870" stop-color="#0020ff"/><stop offset="0.880" stop-color="#0010ff"/><stop offset="0.890" stop-color="#0000ff"/><stop offset="0.900" stop-color="#0000ef"/><stop offset="0.910" stop-color="#0000df"/><stop offset="0.920" stop-color="#0000df"/><stop offset="0.930" stop-color="#0000cf"/><stop offset="0.940" stop-color="#0000cf"/><stop offset="0.950" stop-color="#0000cf"/><stop offset="0.960" stop-color="#0000cf"/><stop offset="0.970" stop-color="#0000bf"/><stop offset="0.980" stop-color="#0000bf"/><stop offset="0.990" stop-color="#0000bf"/><stop offset="1.000" stop-color="#0000bf"/></linearGradient>
<linearGradient id="r11" x1="0" x2="1" y1="0" y2="0"><stop offset="0.000" stop-color="#00008f"/><stop offset="0.010" stop-color="#00008f"/><stop offset="0.020" stop-color="#00008f"/><stop offset="0.030" stop-color="#00008f"/><stop offset="0.040" stop-color="#00008f"/><stop offset="0.050" stop-color="#00008f"/><stop offset="0.060" stop-color="#00008f"/><stop offset="0.070" stop-color="#00008f"/><stop offset="0.080" stop-color="#00008f"/><stop offset="0.090" stop-color="#00008f"/><stop offset="0.100" stop-color="#00008f"/><stop offset="0.110" stop-color="#00008f"/><stop offset="0.120" stop-color="#00008f"/><stop offset="0.130" stop-color="#00008f"/><stop offset="0.140" stop-color="#00008f"/><stop offset="0.150" stop-color="#00008f"/><stop offset="0.160" stop-color="#00008f"/><stop offset="0.170" stop-color="#00008f"/><stop offset="0.180" stop-color="#00008f"/><stop offset="0.190" stop-color="#00008f"/><stop offset="0.200" stop-color="#00008f"/><stop offset="0.210" stop-color="#00008f"/><stop offset="0.220" stop-color="#00008f"/><stop offset="0.230" stop-color="#00008f"/><stop offset="0.240" stop-color="#00008f"/><stop offset="0.250" stop-color="#00008f"/><stop offset="0.260" stop-color="#00008f"/><stop offset="0.270" stop-color="#00008f"/><stop offset="0.280" stop-color="#00008f"/><stop offset="0.290" stop-color="#00008f"/><stop offset="0.300" stop-color="#00008f"/><stop offset="0.310" stop-color="#00008f"/><stop offset="0.320" stop-color="#00009f"/><stop offset="0.330" stop-color="#00009f"/><stop offset="0.340" stop-color="#00009f"/><stop offset="0.350" stop-color="#00009f"/><stop offset="0.360" stop-color="#00009f"/><stop offset="0.370" stop-color="#0000af"/><stop offset="0.380" stop-color="#0000af"/><stop offset="0.390" stop-color="#0000bf"/><stop offset="0.400" stop-color="#0000cf"/><stop offset="0.410" stop-color="#0000df"/><stop offset="0.420" stop-color="#0000ef"/><stop offset="0.430" stop-color="#0010ff"/><stop offset="0.440" stop-color="#0030ff"/><stop offset="0.450" stop-color="#0060ff"/><stop offset="0.460" stop-color="#0080ff"/><stop offset="0.470" stop-color="#00bfff"/><stop offset="0.480" stop-color="#00efff"/><stop offset="0.490" stop-color="#30ffcf"/><stop offset="0.500" stop-color="#80ff80"/><stop offset="0.510" stop-color="#cfff30"/><stop offset="0.520" stop-color="#ffdf00"/><stop offset="0.530" stop-color="#ff8f00"/><stop offset="0.540" stop-color="#ff6000"/><stop offset="0.550" stop-color="#ff4000"/><stop offset="0.560" stop-color="#ff3000"/><stop offset="0.570" stop-color="#ff2000"/><stop offset="0.580" stop-color="#ff2000"/><stop offset="0.590" stop-color="#ff2000"/><stop offset="0.600" stop-color="#ff2000"/><stop offset="0.610" stop-color="#ff2000"/><stop offset="0.620" stop-color="#ff2000"/><stop offset="0.630" stop-color="#ff1000"/><stop offset="0.640" stop-color="#ff0000"/><stop offset="0.650" stop-color="#cf0000"/><stop offset="0.660" stop-color="#af0000"/><stop offset="0.670" stop-color="#9f0000"/><stop offset="0.680" stop-color="#8f0000"/><stop offset="0.690" stop-color="#800000"/><stop offset="0.700" stop-color="#800000"/><stop offset="0.710" stop-color="#800000"/><stop offset="0.720" stop-color="#9f0000"/><stop offset="0.730" stop-color="#bf0000"/><stop offset="0.740" stop-color="#ef0000"/><stop offset="0.750" stop-color="#ff4000"/><stop offset="0.760" stop-color="#ffaf00"/><stop offset="0.770" stop-color="#efff10"/><stop offset="0.780" stop-color="#8fff70"/><stop offset="0.790" stop-color="#40ffbf"/><stop offset="0.800" stop-color="#00ffff"/><stop offset="0.810" stop-color="#00bfff"/><stop offset="0.820" stop-color="#008fff"/><stop offset="0.830" stop-color="#0070ff"/><stop offset="0.840" stop-color="#0040ff"/><stop offset="0.850" stop-color="#0030ff"/><stop offset="0.860" stop-color="#0010ff"/><stop offset="0.870" stop-color="#0000ff"/><stop offset="0.880" stop-color="#0000ef"/><stop offset="0.890" stop-color="#0000df"/><stop offset="0.900" stop-color="#0000cf"/><stop offset="0.910" stop-color="#0000cf"/><stop offset="0.920" stop-color="#0000bf"/><stop offset="0.930" stop-color="#0000bf"/><stop offset="0.940" stop-color="#0000bf"/><stop offset="0.950" stop-color="#0000af"/><stop offset="0.960" stop-color="#0000af"/><stop offset="0.970" stop-color="#0000af"/><stop offset="0.980" stop-color="#0000af"/><stop offset="0.990" stop-color="#0000af"/><stop offset="1.000" stop-color="#0000af"/></linearGradient>
<linearGradient id="r12" x1="0" x2="1" y1="0" y2="0"><stop offset="0.000" stop-color="#00008f"/><stop offset="0.010" stop-color="#00008f"/><stop offset="0.020" stop-color="#00008f"/><stop offset="0.030" stop-color="#00008f"/><stop offset="0.040" stop-color="#00008f"/><stop offset="0.050" stop-color="#00008f"/><stop offset="0.060" stop-color="#00008f"/><stop offset="0.070" stop-color="#00008f"/><stop offset="0.080" stop-color="#00008f"/><stop offset="0.090" stop-color="#00008f"/><stop offset="0.100" stop-color="#00008f"/><stop offset="0.110" stop-color="#00008f"/><stop offset="0.120" stop-color="#00008f"/><stop offset="0.130" stop-color="#00008f"/><stop offset="0.140" stop-color="#00008f"/><stop offset="0.150" stop-color="#00008f"/><stop offset="0.160" stop-color="#00008f"/><stop offset="0.170" stop-color="#00008f"/><stop offset="0.180" stop-color="#00008f"/><stop offset="0.190" stop-color="#00008f"/><stop offset="0.200" stop-color="#00008f"/><stop offset="0.210" stop-color="#00008f"/><stop offset="0.220" stop-color="#00008f"/><stop offset="0.230" stop-color="#00008f"/><stop offset="0.240" stop-color="#00008f"/><stop offset="0.250" stop-color="#00008f"/><stop offset="0.260" stop-color="#00008f"/><stop offset="0.270" stop-color="#00008f"/><stop offset="0.280" stop-color="#00008f"/><stop offset="0.290" stop-color="#00008f"/><stop offset="0.300" stop-color="#00008f"/><stop offset="0.310" stop-color="#00008f"/><stop offset="0.320" stop-color="#00009f"/><stop offset="0.330" stop-color="#00009f"/><stop offset="0.340" stop-color="#00009f"/><stop offset="0.350" stop-color="#00009f"/><stop offset="0.360" stop-color="#00009f"/><stop offset="0.370" stop-color="#0000af"/><stop offset="0.380" stop-color="#0000af"/><stop offset="0.390" stop-color="#0000bf"/><stop offset="0.400" stop-color="#0000cf"/><stop offset="0.410" stop-color="#0000df"/><stop offset="0.420" stop-color="#0000ef"/><stop offset="0.430" stop-color="#0010ff"/><stop offset="0.440" stop-color="#0040ff"/><stop offset="0.450" stop-color="#0060ff"/><stop offset="0.460" stop-color="#008fff"/><stop offset="0.470" stop-color="#00cfff"/><stop offset="0.480" stop-color="#10ffef"/><stop offset="0.490" stop-color="#60ff9f"/><stop offset="0.500" stop-color="#9fff60"/><stop offset="0.510" stop-color="#dfff20"/><stop offset="0.520" stop-color="#ffdf00"/><stop offset="0.530" stop-color="#ffaf00"/><stop offset="0.540" stop-color="#ff9f00"/><stop offset="0.550" stop-color="#ff8f00"/><stop offset="0.560" stop-color="#ff8000"/><stop offset="0.570" stop-color="#ff8f00"/><stop offset="0.580" stop-color="#ff8f00"/><stop offset="0.590" stop-color="#ff8f00"/><stop offset="0.600" stop-color="#ff8f00"/><stop offset="0.610" stop-color="#ff8f00"/><stop offset="0.620" stop-color="#ff8000"/><stop offset="0.630" stop-color="#ff6000"/><stop offset="0.640" stop-color="#ff4000"/><stop offset="0.650" stop-color="#ff1000"/><stop offset="0.660" stop-color="#ef0000"/><stop offset="0.670" stop-color="#bf0000"/><stop offset="0.680" stop-color="#9f0000"/><stop offset="0.690" stop-color="#800000"/><stop offset="0.700" stop-color="#800000"/><stop offset="0.710" stop-color="#8f0000"/><stop offset="0.720" stop-color="#af0000"/><stop offset="0.730" stop-color="#df0000"/><stop offset="0.740" stop-color="#ff3000"/><stop offset="0.750" stop-color="#ff9f00"/><stop offset="0.760" stop-color="#efff10"/><stop offset="0.770" stop-color="#8fff70"/><stop offset="0.780" stop-color="#30ffcf"/><stop offset="0.790" stop-color="#00efff"/><stop offset="0.800" stop-color="#00afff"/><stop offset="0.810" stop-color="#0080ff"/><stop offset="0.820" stop-color="#0050ff"/><stop offset="0.830" stop-color="#0030ff"/><stop offset="0.840" stop-color="#0020ff"/><stop offset="0.850" stop-color="#0010ff"/><stop offset="0.860" stop-color="#0000ff"/><stop offset="0.870" stop-color="#0000ef"/><stop offset="0.880" stop-color="#0000df"/><stop offset="0.890" stop-color="#0000cf"/><stop offset="0.900" stop-color="#0000bf"/><stop offset="0.910" stop-color="#0000bf"/><stop offset="0.920" stop-color="#0000bf"/><stop offset="0.930" stop-color="#0000af"/><stop offset="0.940" stop-color="#0000af"/><stop offset="0.950" stop-color="#0000af"/><stop offset="0.960" stop-color="#0000af"/><stop offset="0.970" stop-color="#0000af"/><stop offset="0.980" stop-color="#00009f"/><stop offset="0.990" stop-color="#00009f"/><stop offset="1.000" stop-color="#00009f"/></linearGradient>
<linearGradient id="r13" x1="0" x2="1" y1="0" y2="0"><stop offset="0.000" stop-color="#00008f"/><stop offset="0.010" stop-color="#00008f"/><stop offset="0.020" stop-color="#00008f"/><stop offset="0.030" stop-color="#00008f"/><stop offset="0.040" stop-color="#00008f"/><stop offset="0.050" stop-color="#00008f"/><stop offset="0.060" stop-color="#00008f"/><stop offset="0.070" stop-color="#00008f"/><stop offset="0.080" stop-color="#00008f"/><stop offset="0.090" stop-color="#00008f"/><stop offset="0.100" stop-color="#00008f"/><stop offset="0.110" stop-color="#00008f"/><stop offset="0.120" stop-color="#00008f"/><stop offset="0.130" stop-color="#00008f"/><stop offset="0.140" stop-color="#00008f"/><stop offset="0.150" stop-color="#00008f"/><stop offset="0.160" stop-color="#00008f"/><stop offset="0.170" stop-color="#00008f"/><stop offset="0.180" stop-color="#00008f"/><stop offset="0.190" stop-color="#00008f"/><stop offset="0.200" stop-color="#00008f"/><stop offset="0.210" stop-color="#00008f"/><stop offset="0.220" stop-color="#00008f"/><stop offset="0.230" stop-color="#00008f"/><stop offset="0.240" stop-color="#00008f"/><stop offset="0.250" stop-color="#00008f"/><stop offset="0.260" stop-color="#00008f"/><stop offset="0.270" stop-color="#00008f"/><stop offset="0.280" stop-color="#00008f"/><stop offset="0.290" stop-color="#00008f"/><stop offset="0.300" stop-color="#00008f"/><stop offset="0.310" stop-color="#00008f"/><stop offset="0.320" stop-color="#00009f"/><stop offset="0.330" stop-color="#00009f"/><stop offset="0.340" stop-color="#00009f"/><stop offset="0.350" stop-color="#00009f"/><stop offset="0.360" stop-color="#00009f"/><stop offset="0.370" stop-color="#0000af"/><stop offset="0.380" stop-color="#0000af"/><stop offset="0.390" stop-color="#0000bf"/><stop offset="0.400" stop-color="#0000cf"/><stop offset="0.410" stop-color="#0000df"/><stop offset="0.420" stop-color="#0000ff"/><stop offset="0.430" stop-color="#0020ff"/><stop offset="0.440" stop-color="#0040ff"/><stop offset="0.450" stop-color="#0080ff"/><stop offset="0.460" stop-color="#00afff"/><stop offset="0.470" stop-color="#00efff"/><stop offset="0.480" stop-color="#30ffcf"/><stop offset="0.490" stop-color="#70ff8f"/><stop offset="0.500" stop-color="#9fff60"/><stop offset="0.510" stop-color="#cfff30"/><stop offset="0.520" stop-color="#dfff20"/><stop offset="0.530" stop-color="#efff10"/><stop offset="0.540" stop-color="#ffff00"/><stop offset="0.550" stop-color="#ffff00"/><stop offset="0.560" stop-color="#efff10"/><stop offset="0.570" stop-color="#efff10"/><stop offset="0.580" stop-color="#efff10"/><stop offset="0.590" stop-color="#efff10"/><stop offset="0.600" stop-color="#ffff00"/><stop offset="0.610" stop-color="#ffef00"/><stop offset="0.620" stop-color="#ffdf00"/><stop offset="0.630" stop-color="#ffbf00"/><stop offset="0.640" stop-color="#ff8f00"/><stop offset="0.650" stop-color="#ff5000"/><stop offset="0.660" stop-color="#ff2000"/><stop offset="0.670" stop-color="#df0000"/><stop offset="0.680" stop-color="#9f0000"/><stop offset="0.690" stop-color="#800000"/><stop offset="0.700" stop-color="#800000"/><stop offset="0.710" stop-color="#af0000"/><stop offset="0.720" stop-color="#cf0000"/><stop offset="0.730" stop-color="#ff2000"/><stop offset="0.740" stop-color="#ff8f00"/><stop offset="0.750" stop-color="#efff10"/><stop offset="0.760" stop-color="#80ff80"/><stop offset="0.770" stop-color="#20ffdf"/><stop offset="0.780" stop-color="#00cfff"/><stop offset="0.790" stop-color="#009fff"/><stop offset="0.800" stop-color="#0070ff"/><stop offset="0.810" stop-color="#0040ff"/><stop offset="0.820" stop-color="#0030ff"/><stop offset="0.830" stop-color="#0010ff"/><stop offset="0.840" stop-color="#0000ff"/><stop offset="0.850" stop-color="#0000ef"/><stop offset="0.860" stop-color="#0000df"/><stop offset="0.870" stop-color="#0000cf"/><stop offset="0.880" stop-color="#0000cf"/><stop offset="0.890" stop-color="#0000bf"/><stop offset="0.900" stop-color="#0000bf"/><stop offset="0.910" stop-color="#0000bf"/><stop offset="0.920" stop-color="#0000af"/><stop offset="0.930" stop-color="#0000af"/><stop offset="0.940" stop-color="#0000af"/><stop offset="0.950" stop-color="#0000af"/><stop offset="0.960" stop-color="#00009f"/><stop offset="0.970" stop-color="#00009f"/><stop offset="0.980" stop-color="#00009f"/><stop offset="0.990" stop-color="#00009f"/><stop offset="1.000" stop-color="#00009f"/></linearGradient>
<linearGradient id="r14" x1="0" x2="1" y1="0" y2="0"><stop offset="0.000" stop-color="#00008f"/><stop offset="0.010" stop-color="#00008f"/><stop offset="0.020" stop-color="#00008f"/><stop offset="0.030" stop-color="#00008f"/><stop offset="0.040" stop-color="#00008f"/><stop offset="0.050" stop-color="#00008f"/><stop offset="0.060" stop-color="#00008f"/><stop offset="0.070" stop-color="#00008f"/><stop offset="0.080" stop-color="#00008f"/><stop offset="0.090" stop-color="#00008f"/><stop offset="0.100" stop-color="#00008f"/><stop offset="0.110" stop-color="#00008f"/><stop offset="0.120" stop-color="#00008f"/><stop offset="0.130" stop-color="#00008f"/><stop offset="0.140" stop-color="#00008f"/><stop offset="0.150" stop-color="#00008f"/><stop offset="0.160" stop-color="#00008f"/><stop offset="0.170" stop-color="#00008f"/><stop offset="0.180" stop-color="#00008f"/><stop offset="0.190" stop-color="#00008f"/><stop offset="0.200" stop-color="#00008f"/><stop offset="0.210" stop-color="#00008f"/><stop offset="0.220" stop-color="#00008f"/><stop offset="0.230" stop-color="#00008f"/><stop offset="0.240" stop-color="#00008f"/><stop offset="0.250" stop-color="#00008f"/><stop offset="0.260" stop-color="#00008f"/><stop offset="0.270" stop-color="#00008f"/><stop offset="0.280" stop-color="#00008f"/><stop offset="0.290" stop-color="#00008f"/><stop offset="0.300" stop-color="#00008f"/><stop offset="0.310" stop-color="#00008f"/><stop offset="0.320" stop-color="#00009f"/><stop offset="0.330" stop-color="#00009f"/><stop offset="0.340" stop-color="#00009f"/><stop offset="0.350" stop-color="#00009f"/><stop offset="0.360" stop-color="#00009f"/><stop offset="0.370" stop-color="#0000af"/><stop offset="0.380" stop-color="#0000af"/><stop offset="0.390" stop-color="#0000bf"/><stop offset="0.400" stop-color="#0000cf"/><stop offset="0.410" stop-color="#0000df"/><stop offset="0.420" stop-color="#0000ff"/><stop offset="0.430" stop-color="#0030ff"/><stop offset="0.440" stop-color="#0060ff"/><stop offset="0.450" stop-color="#009fff"/><stop offset="0.460" stop-color="#00dfff"/><stop offset="0.470" stop-color="#00ffff"/><stop offset="0.480" stop-color="#20ffdf"/><stop offset="0.490" stop-color="#30ffcf"/><stop offset="0.500" stop-color="#40ffbf"/><stop offset="0.510" stop-color="#40ffbf"/><stop offset="0.520" stop-color="#40ffbf"/><stop offset="0.530" stop-color="#40ffbf"/><stop offset="0.540" stop-color="#30ffcf"/><stop offset="0.550" stop-color="#30ffcf"/><stop offset="0.560" stop-color="#30ffcf"/><stop offset="0.570" stop-color="#30ffcf"/><stop offset="0.580" stop-color="#40ffbf"/><stop offset="0.590" stop-color="#50ffaf"/><stop offset="0.600" stop-color="#60ff9f"/><stop offset="0.610" stop-color="#70ff8f"/><stop offset="0.620" stop-color="#9fff60"/><stop offset="0.630" stop-color="#cfff30"/><stop offset="0.640" stop-color="#ffdf00"/><stop offset="0.650" stop-color="#ff9f00"/><stop offset="0.660" stop-color="#ff5000"/><stop offset="0.670" stop-color="#ef0000"/><stop offset="0.680" stop-color="#9f0000"/><stop offset="0.690" stop-color="#800000"/><stop offset="0.700" stop-color="#9f0000"/><stop offset="0.710" stop-color="#cf0000"/><stop offset="0.720" stop-color="#ff1000"/><stop offset="0.730" stop-color="#ff8000"/><stop offset="0.740" stop-color="#efff10"/><stop offset="0.750" stop-color="#70ff8f"/><stop offset="0.760" stop-color="#10ffef"/><stop offset="0.770" stop-color="#00bfff"/><stop offset="0.780" stop-color="#0080ff"/><stop offset="0.790" stop-color="#0050ff"/><stop offset="0.800" stop-color="#0030ff"/><stop offset="0.810" stop-color="#0020ff"/><stop offset="0.820" stop-color="#0010ff"/><stop offset="0.830" stop-color="#0000ef"/><stop offset="0.840" stop-color="#0000df"/><stop offset="0.850" stop-color="#0000cf"/><stop offset="0.860" stop-color="#0000cf"/><stop offset="0.870" stop-color="#0000bf"/><stop offset="0.880" stop-color="#0000bf"/><stop offset="0.890" stop-color="#0000bf"/><stop offset="0.900" stop-color="#0000af"/><stop offset="0.910" stop-color="#0000af"/><stop offset="0.920" stop-color="#0000af"/><stop offset="0.930" stop-color="#0000af"/><stop offset="0.940" stop-color="#00009f"/><stop offset="0.950" stop-color="#00009f"/><stop offset="0.960" stop-color="#00009f"/><stop offset="0.970" stop-color="#00009f"/><stop offset="0.980" stop-color="#00009f"/><stop offset="0.990" stop-color="#00009f"/><stop offset="1.000" stop-color="#00009f"/></linearGradient>
<clipPath id="ca"><rect x="54.0" y="9.4" width="287.0" height="268.0"/></clipPath>
</defs>
<g id="plotA">
<g stroke="#505050" stroke-width="1" fill="none" shape-rendering="crispEdges">
<rect x="54.5" y="12.4" width="286.0" height="262.0"/>
<line x1="111.7" y1="274.4" x2="111.7" y2="271.4"/>
<line x1="111.7" y1="12.4" x2="111.7" y2="15.4"/>
<line x1="168.9" y1="274.4" x2="168.9" y2="271.4"/>
<line x1="168.9" y1="12.4" x2="168.9" y2="15.4"/>
<line x1="226.1" y1="274.4" x2="226.1" y2="271.4"/>
<line x1="226.1" y1="12.4" x2="226.1" y2="15.4"/>
<line x1="283.3" y1="274.4" x2="283.3" y2="271.4"/>
<line x1="283.3" y1="12.4" x2="283.3" y2="15.4"/>
<line x1="54.5" y1="222.0" x2="57.5" y2="222.0"/>
<line x1="340.5" y1="222.0" x2="337.5" y2="222.0"/>
<line x1="54.5" y1="169.6" x2="57.5" y2="169.6"/>
<line x1="340.5" y1="169.6" x2="337.5" y2="169.6"/>
<line x1="54.5" y1="117.2" x2="57.5" y2="117.2"/>
<line x1="340.5" y1="117.2" x2="337.5" y2="117.2"/>
<line x1="54.5" y1="64.8" x2="57.5" y2="64.8"/>
<line x1="340.5" y1="64.8" x2="337.5" y2="64.8"/>
</g>
<g clip-path="url(#ca)" fill="none" stroke-width="3.8" stroke-linejoin="round">
<path id="c0" d="M54.50,273.61 L55.07,273.61 L55.65,273.61 L56.22,273.61 L56.79,273.60 L57.37,273.60 L57.94,273.60 L58.51,273.59 L59.09,273.59 L59.66,273.59 L60.23,273.58 L60.80,273.58 L61.38,273.57 L61.95,273.57 L62.52,273.57 L63.10,273.56 L63.67,273.56 L64.24,273.55 L64.82,273.55 L65.39,273.54 L65.96,273.53 L66.54,273.53 L67.11,273.52 L67.68,273.52 L68.26,273.51 L68.83,273.51 L69.40,273.50 L69.97,273.49 L70.55,273.49 L71.12,273.48 L71.69,273.48 L72.27,273.47 L72.84,273.46 L73.41,273.46 L73.99,273.45 L74.56,273.44 L75.13,273.44 L75.71,273.43 L76.28,273.43 L76.85,273.42 L77.43,273.41 L78.00,273.41 L78.57,273.40 L79.15,273.39 L79.72,273.39 L80.29,273.38 L80.86,273.38 L81.44,273.37 L82.01,273.36 L82.58,273.36 L83.16,273.35 L83.73,273.35 L84.30,273.34 L84.88,273.33 L85.45,273.33 L86.02,273.32 L86.60,273.31 L87.17,273.31 L87.74,273.30 L88.32,273.29 L88.89,273.28 L89.46,273.27 L90.04,273.27 L90.61,273.26 L91.18,273.25 L91.75,273.24 L92.33,273.23 L92.90,273.22 L93.47,273.21 L94.05,273.20 L94.62,273.19 L95.19,273.18 L95.77,273.17 L96.34,273.16 L96.91,273.15 L97.49,273.14 L98.06,273.13 L98.63,273.12 L99.21,273.11 L99.78,273.10 L100.35,273.09 L100.92,273.07 L101.50,273.06 L102.07,273.05 L102.64,273.04 L103.22,273.03 L103.79,273.01 L104.36,273.00 L104.94,272.99 L105.51,272.98 L106.08,272.96 L106.66,272.95 L107.23,272.94 L107.80,272.92 L108.38,272.91 L108.95,272.90 L109.52,272.88 L110.10,272.87 L110.67,272.85 L111.24,272.84 L111.81,272.83 L112.39,272.81 L112.96,272.79 L113.53,272.77 L114.11,272.75 L114.68,272.72 L115.25,272.69 L115.83,272.66 L116.40,272.63 L116.97,272.59 L117.55,272.56 L118.12,272.52 L118.69,272.48 L119.27,272.43 L119.84,272.39 L120.41,272.34 L120.98,272.30 L121.56,272.25 L122.13,272.20 L122.70,272.15 L123.28,272.09 L123.85,272.04 L124.42,271.98 L125.00,271.92 L125.57,271.87 L126.14,271.81 L126.72,271.75 L127.29,271.69 L127.86,271.62 L128.44,271.56 L129.01,271.50 L129.58,271.43 L130.16,271.37 L130.73,271.30 L131.30,271.24 L131.87,271.17 L132.45,271.11 L133.02,271.04 L133.59,270.97 L134.17,270.91 L134.74,270.84 L135.31,270.77 L135.89,270.71 L136.46,270.64 L137.03,270.58 L137.61,270.51 L138.18,270.45 L138.75,270.38 L139.33,270.32 L139.90,270.25 L140.47,270.19 L141.05,270.12 L141.62,270.05 L142.19,269.98 L142.76,269.90 L143.34,269.82 L143.91,269.73 L144.48,269.64 L145.06,269.55 L145.63,269.45 L146.20,269.35 L146.78,269.25 L147.35,269.14 L147.92,269.03 L148.50,268.92 L149.07,268.81 L149.64,268.69 L150.22,268.57 L150.79,268.45 L151.36,268.32 L151.93,268.20 L152.51,268.07 L153.08,267.94 L153.65,267.81 L154.23,267.68 L154.80,267.54 L155.37,267.38 L155.95,267.21 L156.52,267.01 L157.09,266.79 L157.67,266.56 L158.24,266.32 L158.81,266.07 L159.39,265.81 L159.96,265.54 L160.53,265.27 L161.11,265.00 L161.68,264.74 L162.25,264.47 L162.82,264.18 L163.40,263.88 L163.97,263.56 L164.54,263.22 L165.12,262.88 L165.69,262.51 L166.26,262.14 L166.84,261.75 L167.41,261.35 L167.98,260.93 L168.56,260.51 L169.13,260.07 L169.70,259.59 L170.28,259.05 L170.85,258.46 L171.42,257.83 L171.99,257.16 L172.57,256.45 L173.14,255.71 L173.71,254.94 L174.29,254.15 L174.86,253.33 L175.43,252.51 L176.01,251.67 L176.58,250.79 L177.15,249.85 L177.73,248.83 L178.30,247.76 L178.87,246.63 L179.45,245.45 L180.02,244.23 L180.59,242.97 L181.17,241.68 L181.74,240.37 L182.31,239.03 L182.88,237.68 L183.46,236.31 L184.03,234.88 L184.60,233.38 L185.18,231.82 L185.75,230.20 L186.32,228.52 L186.90,226.80 L187.47,225.04 L188.04,223.24 L188.62,221.42 L189.19,219.58 L189.76,217.70 L190.34,215.75 L190.91,213.70 L191.48,211.57 L192.06,209.37 L192.63,207.09 L193.20,204.76 L193.77,202.38 L194.35,199.91 L194.92,197.31 L195.49,194.59 L196.07,191.76 L196.64,188.83 L197.21,185.81 L197.79,182.70 L198.36,179.41 L198.93,175.96 L199.51,172.37 L200.08,168.68 L200.65,164.91 L201.23,161.08 L201.80,157.11 L202.37,153.01 L202.94,148.80 L203.52,144.51 L204.09,140.16 L204.66,135.66 L205.24,131.00 L205.81,126.27 L206.38,121.59 L206.96,117.05 L207.53,112.74 L208.10,108.57 L208.68,104.44 L209.25,100.22 L209.82,95.78 L210.40,91.05 L210.97,86.11 L211.54,81.09 L212.12,76.14 L212.69,71.31 L213.26,66.46 L213.83,61.67 L214.41,57.07 L214.98,52.76 L215.55,48.62 L216.13,44.58 L216.70,40.73 L217.27,37.17 L217.85,34.03 L218.42,31.32 L218.99,28.74 L219.57,26.32 L220.14,24.11 L220.71,22.17 L221.29,20.56 L221.86,19.25 L222.43,17.92 L223.01,16.61 L223.58,15.37 L224.15,14.27 L224.72,13.37 L225.30,12.73 L225.87,12.42 L226.44,12.43 L227.02,12.54 L227.59,12.71 L228.16,12.94 L228.74,13.23 L229.31,13.56 L229.88,13.95 L230.46,14.38 L231.03,14.84 L231.60,15.35 L232.18,15.88 L232.75,16.46 L233.32,17.08 L233.89,17.73 L234.47,18.40 L235.04,19.08 L235.61,19.77 L236.19,20.45 L236.76,21.11 L237.33,21.76 L237.91,22.37 L238.48,22.95 L239.05,23.48 L239.63,23.99 L240.20,24.52 L240.77,25.04 L241.35,25.56 L241.92,26.08 L242.49,26.58 L243.07,27.06 L243.64,27.52 L244.21,27.95 L244.78,28.34 L245.36,28.70 L245.93,29.01 L246.50,29.27 L247.08,29.47 L247.65,29.62 L248.22,29.70 L248.80,29.69 L249.37,29.59 L249.94,29.41 L250.52,29.16 L251.09,28.84 L251.66,28.47 L252.24,28.06 L252.81,27.61 L253.38,27.14 L253.95,26.66 L254.53,26.17 L255.10,25.66 L255.67,25.09 L256.25,24.45 L256.82,23.77 L257.39,23.04 L257.97,22.30 L258.54,21.55 L259.11,20.79 L259.69,20.06 L260.26,19.35 L260.83,18.68 L261.41,18.07 L261.98,17.52 L262.55,17.01 L263.13,16.51 L263.70,16.04 L264.27,15.59 L264.84,15.16 L265.42,14.77 L265.99,14.40 L266.56,14.07 L267.14,13.77 L267.71,13.51 L268.28,13.30 L268.86,13.12 L269.43,12.99 L270.00,12.91 L270.58,13.03 L271.15,13.35 L271.72,13.86 L272.30,14.51 L272.87,15.28 L273.44,16.14 L274.02,17.04 L274.59,17.95 L275.16,18.96 L275.73,20.25 L276.31,21.79 L276.88,23.51 L277.45,25.37 L278.03,27.31 L278.60,29.27 L279.17,31.30 L279.75,33.55 L280.32,35.98 L280.89,38.55 L281.47,41.19 L282.04,43.93 L282.61,46.84 L283.19,49.95 L283.76,53.23 L284.33,56.71 L284.90,60.49 L285.48,64.55 L286.05,68.80 L286.62,73.15 L287.20,77.62 L287.77,82.30 L288.34,87.08 L288.92,91.81 L289.49,96.38 L290.06,100.85 L290.64,105.27 L291.21,109.65 L291.78,113.98 L292.36,118.28 L292.93,122.55 L293.50,126.76 L294.08,130.94 L294.65,135.09 L295.22,139.22 L295.79,143.33 L296.37,147.45 L296.94,151.64 L297.51,155.87 L298.09,160.02 L298.66,164.02 L299.23,167.78 L299.81,171.30 L300.38,174.73 L300.95,178.06 L301.53,181.28 L302.10,184.38 L302.67,187.35 L303.25,190.17 L303.82,192.85 L304.39,195.41 L304.96,197.94 L305.54,200.41 L306.11,202.80 L306.68,205.10 L307.26,207.28 L307.83,209.33 L308.40,211.23 L308.98,212.97 L309.55,214.67 L310.12,216.35 L310.70,218.01 L311.27,219.65 L311.84,221.26 L312.42,222.84 L312.99,224.39 L313.56,225.90 L314.14,227.36 L314.71,228.78 L315.28,230.15 L315.85,231.46 L316.43,232.72 L317.00,233.91 L317.57,235.04 L318.15,236.09 L318.72,237.09 L319.29,238.07 L319.87,239.05 L320.44,240.03 L321.01,241.01 L321.59,241.98 L322.16,242.95 L322.73,243.91 L323.31,244.86 L323.88,245.80 L324.45,246.73 L325.03,247.64 L325.60,248.54 L326.17,249.42 L326.74,250.27 L327.32,251.11 L327.89,251.92 L328.46,252.71 L329.04,253.47 L329.61,254.20 L330.18,254.90 L330.76,255.57 L331.33,256.20 L331.90,256.80 L332.48,257.36 L333.05,257.88 L333.62,258.37 L334.20,258.80 L334.77,259.20 L335.34,259.56 L335.91,259.91 L336.49,260.23 L337.06,260.53 L337.63,260.79 L338.21,261.00 L338.78,261.17 L339.35,261.28 L339.93,261.32 L340.50,261.30" stroke="#ff0000" />
<path id="c25" d="M54.50,273.61 L55.07,273.61 L55.65,273.61 L56.22,273.61 L56.79,273.60 L57.37,273.60 L57.94,273.60 L58.51,273.59 L59.09,273.59 L59.66,273.59 L60.23,273.58 L60.80,273.58 L61.38,273.57 L61.95,273.57 L62.52,273.57 L63.10,273.56 L63.67,273.56 L64.24,273.55 L64.82,273.55 L65.39,273.54 L65.96,273.53 L66.54,273.53 L67.11,273.52 L67.68,273.52 L68.26,273.51 L68.83,273.51 L69.40,273.50 L69.97,273.49 L70.55,273.49 L71.12,273.48 L71.69,273.48 L72.27,273.47 L72.84,273.46 L73.41,273.46 L73.99,273.45 L74.56,273.44 L75.13,273.44 L75.71,273.43 L76.28,273.43 L76.85,273.42 L77.43,273.41 L78.00,273.41 L78.57,273.40 L79.15,273.39 L79.72,273.39 L80.29,273.38 L80.86,273.38 L81.44,273.37 L82.01,273.36 L82.58,273.36 L83.16,273.35 L83.73,273.35 L84.30,273.34 L84.88,273.33 L85.45,273.33 L86.02,273.32 L86.60,273.31 L87.17,273.31 L87.74,273.30 L88.32,273.29 L88.89,273.28 L89.46,273.27 L90.04,273.27 L90.61,273.26 L91.18,273.25 L91.75,273.24 L92.33,273.23 L92.90,273.22 L93.47,273.21 L94.05,273.20 L94.62,273.19 L95.19,273.18 L95.77,273.17 L96.34,273.16 L96.91,273.15 L97.49,273.14 L98.06,273.13 L98.63,273.12 L99.21,273.11 L99.78,273.10 L100.35,273.09 L100.92,273.07 L101.50,273.06 L102.07,273.05 L102.64,273.04 L103.22,273.03 L103.79,273.01 L104.36,273.00 L104.94,272.99 L105.51,272.98 L106.08,272.96 L106.66,272.95 L107.23,272.94 L107.80,272.92 L108.38,272.91 L108.95,272.90 L109.52,272.88 L110.10,272.87 L110.67,272.85 L111.24,272.84 L111.81,272.83 L112.39,272.81 L112.96,272.79 L113.53,272.77 L114.11,272.75 L114.68,272.72 L115.25,272.69 L115.83,272.66 L116.40,272.63 L116.97,272.59 L117.55,272.56 L118.12,272.52 L118.69,272.48 L119.27,272.43 L119.84,272.39 L120.41,272.34 L120.98,272.29 L121.56,272.24 L122.13,272.19 L122.70,272.14 L123.28,272.09 L123.85,272.03 L124.42,271.98 L125.00,271.92 L125.57,271.86 L126.14,271.80 L126.72,271.74 L127.29,271.68 L127.86,271.62 L128.44,271.56 L129.01,271.49 L129.58,271.43 L130.16,271.36 L130.73,271.30 L131.30,271.23 L131.87,271.17 L132.45,271.10 L133.02,271.04 L133.59,270.97 L134.17,270.90 L134.74,270.84 L135.31,270.77 L135.89,270.70 L136.46,270.64 L137.03,270.57 L137.61,270.51 L138.18,270.44 L138.75,270.38 L139.33,270.31 L139.90,270.25 L140.47,270.19 L141.05,270.12 L141.62,270.05 L142.19,269.98 L142.76,269.90 L143.34,269.82 L143.91,269.74 L144.48,269.65 L145.06,269.55 L145.63,269.46 L146.20,269.36 L146.78,269.26 L147.35,269.15 L147.92,269.04 L148.50,268.93 L149.07,268.82 L149.64,268.70 L150.22,268.58 L150.79,268.46 L151.36,268.33 L151.93,268.20 L152.51,268.08 L153.08,267.94 L153.65,267.81 L154.23,267.68 L154.80,267.54 L155.37,267.38 L155.95,267.19 L156.52,266.97 L157.09,266.74 L157.67,266.49 L158.24,266.22 L158.81,265.94 L159.39,265.66 L159.96,265.36 L160.53,265.07 L161.11,264.77 L161.68,264.48 L162.25,264.18 L162.82,263.87 L163.40,263.53 L163.97,263.18 L164.54,262.81 L165.12,262.42 L165.69,262.01 L166.26,261.59 L166.84,261.15 L167.41,260.70 L167.98,260.24 L168.56,259.76 L169.13,259.26 L169.70,258.70 L170.28,258.06 L170.85,257.35 L171.42,256.59 L171.99,255.77 L172.57,254.92 L173.14,254.02 L173.71,253.10 L174.29,252.16 L174.86,251.20 L175.43,250.17 L176.01,249.07 L176.58,247.91 L177.15,246.69 L177.73,245.42 L178.30,244.11 L178.87,242.77 L179.45,241.40 L180.02,240.01 L180.59,238.60 L181.17,237.19 L181.74,235.78 L182.31,234.33 L182.88,232.84 L183.46,231.31 L184.03,229.73 L184.60,228.10 L185.18,226.44 L185.75,224.73 L186.32,222.97 L186.90,221.18 L187.47,219.33 L188.04,217.43 L188.62,215.39 L189.19,213.22 L189.76,210.93 L190.34,208.55 L190.91,206.12 L191.48,203.64 L192.06,201.15 L192.63,198.56 L193.20,195.89 L193.77,193.12 L194.35,190.26 L194.92,187.32 L195.49,184.29 L196.07,181.14 L196.64,177.84 L197.21,174.37 L197.79,170.75 L198.36,166.97 L198.93,163.03 L199.51,158.82 L200.08,154.30 L200.65,149.61 L201.23,144.86 L201.80,140.19 L202.37,135.55 L202.94,130.87 L203.52,126.20 L204.09,121.59 L204.66,117.09 L205.24,112.74 L205.81,108.50 L206.38,104.31 L206.96,100.11 L207.53,95.83 L208.10,91.45 L208.68,87.01 L209.25,82.55 L209.82,78.13 L210.40,73.78 L210.97,69.44 L211.54,65.09 L212.12,60.82 L212.69,56.69 L213.26,52.80 L213.83,49.02 L214.41,45.26 L214.98,41.65 L215.55,38.28 L216.13,35.26 L216.70,32.68 L217.27,30.37 L217.85,28.17 L218.42,26.11 L218.99,24.22 L219.57,22.54 L220.14,21.09 L220.71,19.91 L221.29,18.83 L221.86,17.71 L222.43,16.61 L223.01,15.56 L223.58,14.60 L224.15,13.76 L224.72,13.09 L225.30,12.63 L225.87,12.41 L226.44,12.43 L227.02,12.52 L227.59,12.66 L228.16,12.85 L228.74,13.09 L229.31,13.37 L229.88,13.69 L230.46,14.05 L231.03,14.43 L231.60,14.85 L232.18,15.30 L232.75,15.78 L233.32,16.30 L233.89,16.83 L234.47,17.38 L235.04,17.95 L235.61,18.51 L236.19,19.08 L236.76,19.63 L237.33,20.17 L237.91,20.69 L238.48,21.18 L239.05,21.63 L239.63,22.09 L240.20,22.56 L240.77,23.03 L241.35,23.49 L241.92,23.94 L242.49,24.37 L243.07,24.77 L243.64,25.13 L244.21,25.44 L244.78,25.70 L245.36,25.89 L245.93,26.00 L246.50,26.04 L247.08,25.98 L247.65,25.86 L248.22,25.66 L248.80,25.41 L249.37,25.11 L249.94,24.76 L250.52,24.38 L251.09,23.98 L251.66,23.56 L252.24,23.13 L252.81,22.70 L253.38,22.27 L253.95,21.82 L254.53,21.31 L255.10,20.77 L255.67,20.20 L256.25,19.61 L256.82,19.00 L257.39,18.40 L257.97,17.80 L258.54,17.22 L259.11,16.67 L259.69,16.15 L260.26,15.67 L260.83,15.24 L261.41,14.83 L261.98,14.45 L262.55,14.10 L263.13,13.78 L263.70,13.49 L264.27,13.24 L264.84,13.01 L265.42,12.82 L265.99,12.66 L266.56,12.54 L267.14,12.45 L267.71,12.41 L268.28,12.46 L268.86,12.78 L269.43,13.31 L270.00,14.02 L270.58,14.88 L271.15,15.84 L271.72,16.87 L272.30,17.91 L272.87,19.06 L273.44,20.53 L274.02,22.25 L274.59,24.15 L275.16,26.16 L275.73,28.22 L276.31,30.25 L276.88,32.39 L277.45,34.68 L278.03,37.14 L278.60,39.77 L279.17,42.57 L279.75,45.75 L280.32,49.27 L280.89,52.97 L281.47,56.74 L282.04,60.62 L282.61,64.65 L283.19,68.82 L283.76,73.11 L284.33,77.57 L284.90,82.25 L285.48,87.03 L286.05,91.76 L286.62,96.33 L287.20,100.76 L287.77,105.12 L288.34,109.45 L288.92,113.77 L289.49,118.14 L290.06,122.58 L290.64,127.17 L291.21,131.85 L291.78,136.50 L292.36,141.03 L292.93,145.33 L293.50,149.39 L294.08,153.31 L294.65,157.11 L295.22,160.78 L295.79,164.33 L296.37,167.77 L296.94,171.13 L297.51,174.45 L298.09,177.73 L298.66,180.94 L299.23,184.07 L299.81,187.10 L300.38,190.02 L300.95,192.81 L301.53,195.51 L302.10,198.22 L302.67,200.88 L303.25,203.45 L303.82,205.90 L304.39,208.19 L304.96,210.27 L305.54,212.10 L306.11,213.76 L306.68,215.38 L307.26,216.98 L307.83,218.54 L308.40,220.08 L308.98,221.58 L309.55,223.04 L310.12,224.46 L310.70,225.85 L311.27,227.19 L311.84,228.48 L312.42,229.73 L312.99,230.94 L313.56,232.09 L314.14,233.19 L314.71,234.23 L315.28,235.22 L315.85,236.15 L316.43,237.03 L317.00,237.90 L317.57,238.78 L318.15,239.65 L318.72,240.53 L319.29,241.40 L319.87,242.27 L320.44,243.14 L321.01,244.00 L321.59,244.86 L322.16,245.70 L322.73,246.54 L323.31,247.37 L323.88,248.18 L324.45,248.98 L325.03,249.77 L325.60,250.54 L326.17,251.29 L326.74,252.03 L327.32,252.74 L327.89,253.43 L328.46,254.10 L329.04,254.74 L329.61,255.36 L330.18,255.95 L330.76,256.51 L331.33,257.04 L331.90,257.54 L332.48,258.01 L333.05,258.44 L333.62,258.84 L334.20,259.20 L334.77,259.53 L335.34,259.87 L335.91,260.18 L336.49,260.48 L337.06,260.76 L337.63,261.00 L338.21,261.21 L338.78,261.38 L339.35,261.49 L339.93,261.56 L340.50,261.56" stroke="#0000ff" stroke-dasharray="15.5 15" stroke-dashoffset="0.55"/>
<path id="c50" d="M54.50,273.61 L55.07,273.61 L55.65,273.61 L56.22,273.61 L56.79,273.60 L57.37,273.60 L57.94,273.60 L58.51,273.59 L59.09,273.59 L59.66,273.59 L60.23,273.58 L60.80,273.58 L61.38,273.57 L61.95,273.57 L62.52,273.57 L63.10,273.56 L63.67,273.56 L64.24,273.55 L64.82,273.55 L65.39,273.54 L65.96,273.53 L66.54,273.53 L67.11,273.52 L67.68,273.52 L68.26,273.51 L68.83,273.51 L69.40,273.50 L69.97,273.49 L70.55,273.49 L71.12,273.48 L71.69,273.48 L72.27,273.47 L72.84,273.46 L73.41,273.46 L73.99,273.45 L74.56,273.44 L75.13,273.44 L75.71,273.43 L76.28,273.43 L76.85,273.42 L77.43,273.41 L78.00,273.41 L78.57,273.40 L79.15,273.39 L79.72,273.39 L80.29,273.38 L80.86,273.38 L81.44,273.37 L82.01,273.36 L82.58,273.36 L83.16,273.35 L83.73,273.35 L84.30,273.34 L84.88,273.33 L85.45,273.33 L86.02,273.32 L86.60,273.31 L87.17,273.31 L87.74,273.30 L88.32,273.29 L88.89,273.28 L89.46,273.27 L90.04,273.27 L90.61,273.26 L91.18,273.25 L91.75,273.24 L92.33,273.23 L92.90,273.22 L93.47,273.21 L94.05,273.20 L94.62,273.19 L95.19,273.18 L95.77,273.17 L96.34,273.16 L96.91,273.15 L97.49,273.14 L98.06,273.13 L98.63,273.12 L99.21,273.11 L99.78,273.10 L100.35,273.09 L100.92,273.07 L101.50,273.06 L102.07,273.05 L102.64,273.04 L103.22,273.03 L103.79,273.01 L104.36,273.00 L104.94,272.99 L105.51,272.98 L106.08,272.96 L106.66,272.95 L107.23,272.94 L107.80,272.92 L108.38,272.91 L108.95,272.90 L109.52,272.88 L110.10,272.87 L110.67,272.85 L111.24,272.84 L111.81,272.83 L112.39,272.81 L112.96,272.79 L113.53,272.77 L114.11,272.74 L114.68,272.72 L115.25,272.69 L115.83,272.66 L116.40,272.62 L116.97,272.59 L117.55,272.55 L118.12,272.51 L118.69,272.47 L119.27,272.42 L119.84,272.38 L120.41,272.33 L120.98,272.28 L121.56,272.23 L122.13,272.18 L122.70,272.12 L123.28,272.07 L123.85,272.01 L124.42,271.96 L125.00,271.90 L125.57,271.84 L126.14,271.78 L126.72,271.72 L127.29,271.65 L127.86,271.59 L128.44,271.53 L129.01,271.46 L129.58,271.40 L130.16,271.33 L130.73,271.27 L131.30,271.20 L131.87,271.14 L132.45,271.07 L133.02,271.01 L133.59,270.94 L134.17,270.88 L134.74,270.81 L135.31,270.75 L135.89,270.68 L136.46,270.62 L137.03,270.56 L137.61,270.49 L138.18,270.43 L138.75,270.37 L139.33,270.31 L139.90,270.25 L140.47,270.19 L141.05,270.13 L141.62,270.06 L142.19,269.99 L142.76,269.91 L143.34,269.83 L143.91,269.74 L144.48,269.65 L145.06,269.55 L145.63,269.46 L146.20,269.35 L146.78,269.25 L147.35,269.14 L147.92,269.03 L148.50,268.91 L149.07,268.80 L149.64,268.68 L150.22,268.56 L150.79,268.43 L151.36,268.31 L151.93,268.18 L152.51,268.06 L153.08,267.93 L153.65,267.80 L154.23,267.67 L154.80,267.54 L155.37,267.38 L155.95,267.19 L156.52,266.96 L157.09,266.70 L157.67,266.41 L158.24,266.10 L158.81,265.75 L159.39,265.39 L159.96,264.99 L160.53,264.58 L161.11,264.14 L161.68,263.68 L162.25,263.21 L162.82,262.72 L163.40,262.21 L163.97,261.69 L164.54,261.16 L165.12,260.61 L165.69,260.06 L166.26,259.50 L166.84,258.93 L167.41,258.35 L167.98,257.77 L168.56,257.19 L169.13,256.60 L169.70,255.93 L170.28,255.14 L170.85,254.27 L171.42,253.30 L171.99,252.24 L172.57,251.11 L173.14,249.91 L173.71,248.63 L174.29,247.30 L174.86,245.91 L175.43,244.48 L176.01,243.00 L176.58,241.48 L177.15,239.94 L177.73,238.37 L178.30,236.78 L178.87,235.07 L179.45,233.13 L180.02,231.03 L180.59,228.82 L181.17,226.56 L181.74,224.30 L182.31,222.11 L182.88,219.98 L183.46,217.86 L184.03,215.73 L184.60,213.59 L185.18,211.43 L185.75,209.27 L186.32,207.08 L186.90,204.86 L187.47,202.62 L188.04,200.39 L188.62,198.15 L189.19,195.87 L189.76,193.52 L190.34,191.07 L190.91,188.50 L191.48,185.76 L192.06,182.82 L192.63,179.47 L193.20,175.76 L193.77,171.79 L194.35,167.64 L194.92,163.40 L195.49,159.15 L196.07,154.83 L196.64,150.34 L197.21,145.73 L197.79,141.04 L198.36,136.31 L198.93,131.59 L199.51,126.82 L200.08,121.96 L200.65,117.06 L201.23,112.18 L201.80,107.38 L202.37,102.71 L202.94,98.14 L203.52,93.62 L204.09,89.17 L204.66,84.81 L205.24,80.57 L205.81,76.47 L206.38,72.43 L206.96,68.40 L207.53,64.48 L208.10,60.74 L208.68,57.29 L209.25,54.20 L209.82,51.40 L210.40,48.76 L210.97,46.27 L211.54,43.91 L212.12,41.66 L212.69,39.52 L213.26,37.45 L213.83,35.37 L214.41,33.34 L214.98,31.43 L215.55,29.73 L216.13,28.30 L216.70,27.02 L217.27,25.81 L217.85,24.72 L218.42,23.79 L218.99,23.09 L219.57,22.62 L220.14,22.14 L220.71,21.70 L221.29,21.32 L221.86,21.08 L222.43,21.01 L223.01,21.13 L223.58,21.30 L224.15,21.49 L224.72,21.71 L225.30,21.93 L225.87,22.17 L226.44,22.41 L227.02,22.65 L227.59,22.89 L228.16,23.11 L228.74,23.33 L229.31,23.53 L229.88,23.74 L230.46,23.97 L231.03,24.21 L231.60,24.45 L232.18,24.68 L232.75,24.91 L233.32,25.12 L233.89,25.31 L234.47,25.48 L235.04,25.61 L235.61,25.71 L236.19,25.77 L236.76,25.77 L237.33,25.71 L237.91,25.52 L238.48,25.22 L239.05,24.82 L239.63,24.36 L240.20,23.84 L240.77,23.30 L241.35,22.74 L241.92,22.20 L242.49,21.69 L243.07,21.24 L243.64,20.80 L244.21,20.35 L244.78,19.90 L245.36,19.45 L245.93,19.00 L246.50,18.54 L247.08,18.10 L247.65,17.65 L248.22,17.22 L248.80,16.80 L249.37,16.39 L249.94,16.00 L250.52,15.62 L251.09,15.24 L251.66,14.88 L252.24,14.54 L252.81,14.21 L253.38,13.89 L253.95,13.59 L254.53,13.32 L255.10,13.06 L255.67,12.83 L256.25,12.62 L256.82,12.52 L257.39,12.54 L257.97,12.67 L258.54,12.90 L259.11,13.22 L259.69,13.61 L260.26,14.08 L260.83,14.59 L261.41,15.15 L261.98,15.74 L262.55,16.34 L263.13,16.95 L263.70,17.70 L264.27,18.92 L264.84,20.53 L265.42,22.44 L265.99,24.57 L266.56,26.81 L267.14,29.07 L267.71,31.28 L268.28,33.62 L268.86,36.17 L269.43,38.93 L270.00,41.87 L270.58,44.99 L271.15,48.27 L271.72,51.77 L272.30,55.65 L272.87,59.82 L273.44,64.16 L274.02,68.58 L274.59,72.97 L275.16,77.34 L275.73,81.81 L276.31,86.34 L276.88,90.85 L277.45,95.28 L278.03,99.62 L278.60,103.93 L279.17,108.19 L279.75,112.35 L280.32,116.37 L280.89,120.26 L281.47,124.05 L282.04,127.77 L282.61,131.44 L283.19,135.05 L283.76,138.64 L284.33,142.22 L284.90,145.81 L285.48,149.44 L286.05,153.11 L286.62,156.76 L287.20,160.36 L287.77,163.86 L288.34,167.20 L288.92,170.36 L289.49,173.34 L290.06,176.21 L290.64,178.98 L291.21,181.65 L291.78,184.22 L292.36,186.68 L292.93,189.04 L293.50,191.31 L294.08,193.51 L294.65,195.65 L295.22,197.74 L295.79,199.77 L296.37,201.74 L296.94,203.65 L297.51,205.49 L298.09,207.30 L298.66,209.13 L299.23,210.99 L299.81,212.85 L300.38,214.72 L300.95,216.58 L301.53,218.43 L302.10,220.26 L302.67,222.05 L303.25,223.81 L303.82,225.53 L304.39,227.18 L304.96,228.78 L305.54,230.30 L306.11,231.74 L306.68,233.10 L307.26,234.36 L307.83,235.52 L308.40,236.56 L308.98,237.53 L309.55,238.49 L310.12,239.44 L310.70,240.37 L311.27,241.29 L311.84,242.20 L312.42,243.10 L312.99,243.98 L313.56,244.84 L314.14,245.69 L314.71,246.52 L315.28,247.34 L315.85,248.14 L316.43,248.92 L317.00,249.68 L317.57,250.42 L318.15,251.14 L318.72,251.84 L319.29,252.51 L319.87,253.17 L320.44,253.80 L321.01,254.41 L321.59,254.99 L322.16,255.55 L322.73,256.08 L323.31,256.59 L323.88,257.07 L324.45,257.52 L325.03,257.94 L325.60,258.34 L326.17,258.70 L326.74,259.03 L327.32,259.34 L327.89,259.65 L328.46,259.95 L329.04,260.25 L329.61,260.56 L330.18,260.85 L330.76,261.15 L331.33,261.43 L331.90,261.71 L332.48,261.98 L333.05,262.24 L333.62,262.48 L334.20,262.71 L334.77,262.93 L335.34,263.13 L335.91,263.31 L336.49,263.47 L337.06,263.61 L337.63,263.73 L338.21,263.82 L338.78,263.89 L339.35,263.93 L339.93,263.94 L340.50,263.92" stroke="#00ff00" stroke-dasharray="15 4 8.3 4" stroke-dashoffset="8.9"/>
<path id="c75" d="M54.50,273.61 L55.07,273.61 L55.65,273.61 L56.22,273.61 L56.79,273.60 L57.37,273.60 L57.94,273.60 L58.51,273.59 L59.09,273.59 L59.66,273.59 L60.23,273.58 L60.80,273.58 L61.38,273.57 L61.95,273.57 L62.52,273.57 L63.10,273.56 L63.67,273.56 L64.24,273.55 L64.82,273.55 L65.39,273.54 L65.96,273.53 L66.54,273.53 L67.11,273.52 L67.68,273.52 L68.26,273.51 L68.83,273.51 L69.40,273.50 L69.97,273.49 L70.55,273.49 L71.12,273.48 L71.69,273.48 L72.27,273.47 L72.84,273.46 L73.41,273.46 L73.99,273.45 L74.56,273.44 L75.13,273.44 L75.71,273.43 L76.28,273.42 L76.85,273.42 L77.43,273.41 L78.00,273.41 L78.57,273.40 L79.15,273.39 L79.72,273.39 L80.29,273.38 L80.86,273.37 L81.44,273.37 L82.01,273.36 L82.58,273.36 L83.16,273.35 L83.73,273.35 L84.30,273.34 L84.88,273.33 L85.45,273.33 L86.02,273.32 L86.60,273.31 L87.17,273.31 L87.74,273.30 L88.32,273.29 L88.89,273.28 L89.46,273.28 L90.04,273.27 L90.61,273.26 L91.18,273.25 L91.75,273.24 L92.33,273.23 L92.90,273.22 L93.47,273.21 L94.05,273.20 L94.62,273.20 L95.19,273.19 L95.77,273.18 L96.34,273.17 L96.91,273.15 L97.49,273.14 L98.06,273.13 L98.63,273.12 L99.21,273.11 L99.78,273.10 L100.35,273.09 L100.92,273.08 L101.50,273.07 L102.07,273.05 L102.64,273.04 L103.22,273.03 L103.79,273.02 L104.36,273.00 L104.94,272.99 L105.51,272.98 L106.08,272.96 L106.66,272.95 L107.23,272.94 L107.80,272.92 L108.38,272.91 L108.95,272.90 L109.52,272.88 L110.10,272.87 L110.67,272.85 L111.24,272.84 L111.81,272.83 L112.39,272.81 L112.96,272.79 L113.53,272.77 L114.11,272.74 L114.68,272.71 L115.25,272.68 L115.83,272.65 L116.40,272.61 L116.97,272.57 L117.55,272.53 L118.12,272.48 L118.69,272.44 L119.27,272.39 L119.84,272.34 L120.41,272.29 L120.98,272.23 L121.56,272.18 L122.13,272.12 L122.70,272.06 L123.28,272.00 L123.85,271.94 L124.42,271.88 L125.00,271.81 L125.57,271.75 L126.14,271.68 L126.72,271.61 L127.29,271.54 L127.86,271.47 L128.44,271.40 L129.01,271.33 L129.58,271.26 L130.16,271.19 L130.73,271.12 L131.30,271.05 L131.87,270.97 L132.45,270.90 L133.02,270.83 L133.59,270.76 L134.17,270.69 L134.74,270.61 L135.31,270.54 L135.89,270.47 L136.46,270.40 L137.03,270.33 L137.61,270.26 L138.18,270.19 L138.75,270.12 L139.33,270.06 L139.90,269.99 L140.47,269.93 L141.05,269.86 L141.62,269.78 L142.19,269.70 L142.76,269.62 L143.34,269.53 L143.91,269.44 L144.48,269.34 L145.06,269.24 L145.63,269.13 L146.20,269.02 L146.78,268.91 L147.35,268.80 L147.92,268.68 L148.50,268.56 L149.07,268.44 L149.64,268.31 L150.22,268.19 L150.79,268.06 L151.36,267.93 L151.93,267.80 L152.51,267.67 L153.08,267.54 L153.65,267.41 L154.23,267.28 L154.80,267.15 L155.37,266.99 L155.95,266.80 L156.52,266.57 L157.09,266.32 L157.67,266.04 L158.24,265.74 L158.81,265.41 L159.39,265.05 L159.96,264.67 L160.53,264.27 L161.11,263.85 L161.68,263.42 L162.25,262.96 L162.82,262.49 L163.40,262.00 L163.97,261.50 L164.54,260.99 L165.12,260.47 L165.69,259.94 L166.26,259.40 L166.84,258.85 L167.41,258.30 L167.98,257.74 L168.56,257.18 L169.13,256.60 L169.70,255.84 L170.28,254.88 L170.85,253.72 L171.42,252.41 L171.99,250.95 L172.57,249.36 L173.14,247.67 L173.71,245.89 L174.29,244.05 L174.86,242.14 L175.43,239.95 L176.01,237.50 L176.58,234.85 L177.15,232.06 L177.73,229.20 L178.30,226.34 L178.87,223.53 L179.45,220.83 L180.02,218.15 L180.59,215.46 L181.17,212.76 L181.74,210.04 L182.31,207.31 L182.88,204.56 L183.46,201.78 L184.03,198.95 L184.60,195.86 L185.18,192.60 L185.75,189.30 L186.32,186.11 L186.90,183.17 L187.47,180.60 L188.04,178.56 L188.62,176.96 L189.19,175.55 L189.76,174.30 L190.34,173.17 L190.91,172.12 L191.48,171.12 L192.06,170.13 L192.63,169.09 L193.20,167.98 L193.77,166.84 L194.35,165.74 L194.92,164.74 L195.49,163.91 L196.07,163.31 L196.64,162.86 L197.21,162.42 L197.79,162.01 L198.36,161.64 L198.93,161.32 L199.51,161.07 L200.08,160.91 L200.65,160.84 L201.23,160.89 L201.80,161.05 L202.37,161.25 L202.94,161.48 L203.52,161.74 L204.09,162.01 L204.66,162.30 L205.24,162.59 L205.81,162.89 L206.38,163.18 L206.96,163.47 L207.53,163.74 L208.10,163.99 L208.68,164.22 L209.25,164.45 L209.82,164.68 L210.40,164.91 L210.97,165.13 L211.54,165.34 L212.12,165.54 L212.69,165.72 L213.26,165.88 L213.83,166.01 L214.41,166.12 L214.98,166.20 L215.55,166.19 L216.13,166.07 L216.70,165.85 L217.27,165.54 L217.85,165.15 L218.42,164.71 L218.99,164.21 L219.57,163.67 L220.14,163.12 L220.71,162.55 L221.29,161.98 L221.86,161.43 L222.43,160.81 L223.01,160.06 L223.58,159.21 L224.15,158.27 L224.72,157.25 L225.30,156.20 L225.87,155.11 L226.44,153.97 L227.02,152.65 L227.59,151.17 L228.16,149.58 L228.74,147.93 L229.31,146.13 L229.88,144.16 L230.46,142.10 L231.03,140.00 L231.60,137.81 L232.18,135.53 L232.75,133.15 L233.32,130.69 L233.89,128.15 L234.47,125.51 L235.04,122.75 L235.61,119.85 L236.19,116.77 L236.76,113.41 L237.33,109.75 L237.91,105.86 L238.48,101.82 L239.05,97.70 L239.63,93.51 L240.20,89.09 L240.77,84.53 L241.35,79.96 L241.92,75.47 L242.49,71.13 L243.07,66.81 L243.64,62.54 L244.21,58.36 L244.78,54.32 L245.36,50.49 L245.93,46.93 L246.50,43.44 L247.08,39.84 L247.65,35.82 L248.22,31.33 L248.80,27.04 L249.37,23.66 L249.94,20.74 L250.52,18.09 L251.09,15.98 L251.66,14.71 L252.24,14.56 L252.81,15.38 L253.38,16.85 L253.95,18.76 L254.53,20.91 L255.10,23.20 L255.67,25.79 L256.25,28.53 L256.82,31.27 L257.39,33.88 L257.97,36.41 L258.54,38.99 L259.11,41.71 L259.69,44.76 L260.26,48.42 L260.83,52.90 L261.41,58.77 L261.98,66.45 L262.55,74.67 L263.13,82.10 L263.70,88.59 L264.27,94.95 L264.84,101.91 L265.42,110.02 L265.99,118.26 L266.56,125.29 L267.14,131.21 L267.71,136.64 L268.28,141.93 L268.86,147.42 L269.43,153.17 L270.00,158.94 L270.58,164.48 L271.15,169.55 L271.72,174.33 L272.30,178.93 L272.87,183.29 L273.44,187.35 L274.02,191.06 L274.59,194.48 L275.16,197.80 L275.73,200.97 L276.31,203.92 L276.88,206.60 L277.45,208.96 L278.03,211.05 L278.60,213.12 L279.17,215.18 L279.75,217.22 L280.32,219.22 L280.89,221.19 L281.47,223.10 L282.04,224.95 L282.61,226.73 L283.19,228.43 L283.76,230.05 L284.33,231.57 L284.90,232.98 L285.48,234.28 L286.05,235.45 L286.62,236.49 L287.20,237.44 L287.77,238.38 L288.34,239.32 L288.92,240.26 L289.49,241.19 L290.06,242.11 L290.64,243.02 L291.21,243.93 L291.78,244.82 L292.36,245.71 L292.93,246.58 L293.50,247.43 L294.08,248.27 L294.65,249.09 L295.22,249.90 L295.79,250.68 L296.37,251.44 L296.94,252.18 L297.51,252.90 L298.09,253.59 L298.66,254.26 L299.23,254.89 L299.81,255.50 L300.38,256.08 L300.95,256.62 L301.53,257.14 L302.10,257.62 L302.67,258.06 L303.25,258.47 L303.82,258.84 L304.39,259.17 L304.96,259.47 L305.54,259.77 L306.11,260.08 L306.68,260.38 L307.26,260.68 L307.83,260.98 L308.40,261.28 L308.98,261.58 L309.55,261.88 L310.12,262.18 L310.70,262.47 L311.27,262.76 L311.84,263.05 L312.42,263.34 L312.99,263.62 L313.56,263.90 L314.14,264.18 L314.71,264.46 L315.28,264.73 L315.85,265.00 L316.43,265.27 L317.00,265.53 L317.57,265.78 L318.15,266.04 L318.72,266.28 L319.29,266.53 L319.87,266.77 L320.44,267.00 L321.01,267.23 L321.59,267.45 L322.16,267.67 L322.73,267.88 L323.31,268.08 L323.88,268.28 L324.45,268.47 L325.03,268.66 L325.60,268.84 L326.17,269.01 L326.74,269.18 L327.32,269.33 L327.89,269.48 L328.46,269.62 L329.04,269.76 L329.61,269.88 L330.18,270.00 L330.76,270.11 L331.33,270.21 L331.90,270.30 L332.48,270.38 L333.05,270.46 L333.62,270.52 L334.20,270.57 L334.77,270.62 L335.34,270.65 L335.91,270.68 L336.49,270.69 L337.06,270.69 L337.63,270.68 L338.21,270.66 L338.78,270.63 L339.35,270.59 L339.93,270.54 L340.50,270.47" stroke="#00ffff" stroke-dasharray="4 3.6" stroke-dashoffset="0.7"/>
</g>
</g>
<g font-family="'Liberation Serif', 'Times New Roman', serif" fill="#000">
<text transform="translate(54.8,302.9) scale(0.78,1)" font-size="23" text-anchor="middle" font-weight="bold" stroke="#000" stroke-width="0.35">30</text>
<text transform="translate(112.0,302.9) scale(0.78,1)" font-size="23" text-anchor="middle" font-weight="bold" stroke="#000" stroke-width="0.35">32</text>
<text transform="translate(169.2,302.9) scale(0.78,1)" font-size="23" text-anchor="middle" font-weight="bold" stroke="#000" stroke-width="0.35">34</text>
<text transform="translate(226.4,302.9) scale(0.78,1)" font-size="23" text-anchor="middle" font-weight="bold" stroke="#000" stroke-width="0.35">36</text>
<text transform="translate(283.6,302.9) scale(0.78,1)" font-size="23" text-anchor="middle" font-weight="bold" stroke="#000" stroke-width="0.35">38</text>
<text transform="translate(340.8,302.9) scale(0.78,1)" font-size="23" text-anchor="middle" font-weight="bold" stroke="#000" stroke-width="0.35">40</text>
<text transform="translate(48.6,282.5) scale(0.78,1)" font-size="23" text-anchor="end" font-weight="bold" stroke="#000" stroke-width="0.35">0</text>
<text transform="translate(48.6,230.1) scale(0.78,1)" font-size="23" text-anchor="end" font-weight="bold" stroke="#000" stroke-width="0.35">0.2</text>
<text transform="translate(48.6,177.7) scale(0.78,1)" font-size="23" text-anchor="end" font-weight="bold" stroke="#000" stroke-width="0.35">0.4</text>
<text transform="translate(48.6,125.3) scale(0.78,1)" font-size="23" text-anchor="end" font-weight="bold" stroke="#000" stroke-width="0.35">0.6</text>
<text transform="translate(48.6,72.9) scale(0.78,1)" font-size="23" text-anchor="end" font-weight="bold" stroke="#000" stroke-width="0.35">0.8</text>
<text transform="translate(48.6,20.5) scale(0.78,1)" font-size="23" text-anchor="end" font-weight="bold" stroke="#000" stroke-width="0.35">1</text>
<text transform="translate(198.2,334.8) scale(0.808,1)" font-size="27.6" text-anchor="middle" font-weight="bold" stroke="#000" stroke-width="0.35">Frequency(THz)</text>
<text transform="translate(18.9,143.2) rotate(-90) scale(1.15,1)" font-size="22.8" text-anchor="middle" font-weight="bold" stroke="#000" stroke-width="0.35">PCR</text>
<text transform="translate(168.8,383.5) scale(1.0,1)" font-size="24.8" text-anchor="middle" font-weight="bold" stroke="#000" stroke-width="0.35">(a)</text>
<text transform="translate(95.6,44.4) scale(0.847,1)" font-size="17" text-anchor="start" font-weight="bold" stroke="#000" stroke-width="0.3">theta=0<tspan font-weight="normal" stroke-width="0.1" font-size="19" dy="-0.5">°</tspan></text>
<text transform="translate(95.6,67.5) scale(0.847,1)" font-size="17" text-anchor="start" font-weight="bold" stroke="#000" stroke-width="0.3">theta=25<tspan font-weight="normal" stroke-width="0.1" font-size="19" dy="-0.5">°</tspan></text>
<text transform="translate(95.6,90.5) scale(0.847,1)" font-size="17" text-anchor="start" font-weight="bold" stroke="#000" stroke-width="0.3">theta=50<tspan font-weight="normal" stroke-width="0.1" font-size="19" dy="-0.5">°</tspan></text>
<text transform="translate(95.6,113.6) scale(0.847,1)" font-size="17" text-anchor="start" font-weight="bold" stroke="#000" stroke-width="0.3">theta=75<tspan font-weight="normal" stroke-width="0.1" font-size="19" dy="-0.5">°</tspan></text>
</g>
<g fill="none" stroke-width="3.6">
<path d="M66,36.6 H93.4" stroke="#ff0000"/>
<path d="M66,59.7 H81" stroke="#0000ff"/>
<path d="M66,82.7 H80.6 M85.2,82.7 H93.4" stroke="#00ff00"/>
<path d="M66,106.5 H93.4" stroke="#00ffff" stroke-dasharray="3.6 3.2"/>
</g>
<g id="plotB" shape-rendering="crispEdges">
<rect x="412.0" y="257.26" width="241.0" height="18.44" fill="url(#r0)"/>
<rect x="412.0" y="239.12" width="241.0" height="18.44" fill="url(#r1)"/>
<rect x="412.0" y="220.98" width="241.0" height="18.44" fill="url(#r2)"/>
<rect x="412.0" y="202.84" width="241.0" height="18.44" fill="url(#r3)"/>
<rect x="412.0" y="184.70" width="241.0" height="18.44" fill="url(#r4)"/>
<rect x="412.0" y="166.56" width="241.0" height="18.44" fill="url(#r5)"/>
<rect x="412.0" y="148.42" width="241.0" height="18.44" fill="url(#r6)"/>
<rect x="412.0" y="130.28" width="241.0" height="18.44" fill="url(#r7)"/>
<rect x="412.0" y="112.14" width="241.0" height="18.44" fill="url(#r8)"/>
<rect x="412.0" y="94.00" width="241.0" height="18.44" fill="url(#r9)"/>
<rect x="412.0" y="75.86" width="241.0" height="18.44" fill="url(#r10)"/>
<rect x="412.0" y="57.72" width="241.0" height="18.44" fill="url(#r11)"/>
<rect x="412.0" y="39.58" width="241.0" height="18.44" fill="url(#r12)"/>
<rect x="412.0" y="21.44" width="241.0" height="18.44" fill="url(#r13)"/>
<rect x="412.0" y="3.30" width="241.0" height="18.44" fill="url(#r14)"/>
<rect x="412.0" y="3.3" width="241.0" height="272.09999999999997" fill="none" stroke="#000" stroke-opacity="0.35" stroke-width="1"/>
<g stroke="#222" stroke-width="1" stroke-opacity="0.8">
<line x1="436.1" y1="275.4" x2="436.1" y2="272.9"/>
<line x1="436.1" y1="3.3" x2="436.1" y2="5.8"/>
<line x1="460.2" y1="275.4" x2="460.2" y2="272.9"/>
<line x1="460.2" y1="3.3" x2="460.2" y2="5.8"/>
<line x1="484.3" y1="275.4" x2="484.3" y2="272.9"/>
<line x1="484.3" y1="3.3" x2="484.3" y2="5.8"/>
<line x1="508.4" y1="275.4" x2="508.4" y2="272.9"/>
<line x1="508.4" y1="3.3" x2="508.4" y2="5.8"/>
<line x1="532.5" y1="275.4" x2="532.5" y2="272.9"/>
<line x1="532.5" y1="3.3" x2="532.5" y2="5.8"/>
<line x1="556.6" y1="275.4" x2="556.6" y2="272.9"/>
<line x1="556.6" y1="3.3" x2="556.6" y2="5.8"/>
<line x1="580.7" y1="275.4" x2="580.7" y2="272.9"/>
<line x1="580.7" y1="3.3" x2="580.7" y2="5.8"/>
<line x1="604.8" y1="275.4" x2="604.8" y2="272.9"/>
<line x1="604.8" y1="3.3" x2="604.8" y2="5.8"/>
<line x1="628.9" y1="275.4" x2="628.9" y2="272.9"/>
<line x1="628.9" y1="3.3" x2="628.9" y2="5.8"/>
<line x1="412.0" y1="12.4" x2="414.5" y2="12.4"/>
<line x1="653.0" y1="12.4" x2="650.5" y2="12.4"/>
<line x1="412.0" y1="85" x2="414.5" y2="85"/>
<line x1="653.0" y1="85" x2="650.5" y2="85"/>
<line x1="412.0" y1="175.2" x2="414.5" y2="175.2"/>
<line x1="653.0" y1="175.2" x2="650.5" y2="175.2"/>
<line x1="412.0" y1="266" x2="414.5" y2="266"/>
<line x1="653.0" y1="266" x2="650.5" y2="266"/>
</g>
<rect x="669.5" y="271.15" width="17.7" height="4.55" fill="#00008f"/>
<rect x="669.5" y="266.91" width="17.7" height="4.55" fill="#00009f"/>
<rect x="669.5" y="262.66" width="17.7" height="4.55" fill="#0000af"/>
<rect x="669.5" y="258.41" width="17.7" height="4.55" fill="#0000bf"/>
<rect x="669.5" y="254.17" width="17.7" height="4.55" fill="#0000cf"/>
<rect x="669.5" y="249.92" width="17.7" height="4.55" fill="#0000df"/>
<rect x="669.5" y="245.67" width="17.7" height="4.55" fill="#0000ef"/>
<rect x="669.5" y="241.42" width="17.7" height="4.55" fill="#0000ff"/>
<rect x="669.5" y="237.18" width="17.7" height="4.55" fill="#0010ff"/>
<rect x="669.5" y="232.93" width="17.7" height="4.55" fill="#0020ff"/>
<rect x="669.5" y="228.68" width="17.7" height="4.55" fill="#0030ff"/>
<rect x="669.5" y="224.44" width="17.7" height="4.55" fill="#0040ff"/>
<rect x="669.5" y="220.19" width="17.7" height="4.55" fill="#0050ff"/>
<rect x="669.5" y="215.94" width="17.7" height="4.55" fill="#0060ff"/>
<rect x="669.5" y="211.70" width="17.7" height="4.55" fill="#0070ff"/>
<rect x="669.5" y="207.45" width="17.7" height="4.55" fill="#0080ff"/>
<rect x="669.5" y="203.20" width="17.7" height="4.55" fill="#008fff"/>
<rect x="669.5" y="198.96" width="17.7" height="4.55" fill="#009fff"/>
<rect x="669.5" y="194.71" width="17.7" height="4.55" fill="#00afff"/>
<rect x="669.5" y="190.46" width="17.7" height="4.55" fill="#00bfff"/>
<rect x="669.5" y="186.22" width="17.7" height="4.55" fill="#00cfff"/>
<rect x="669.5" y="181.97" width="17.7" height="4.55" fill="#00dfff"/>
<rect x="669.5" y="177.72" width="17.7" height="4.55" fill="#00efff"/>
<rect x="669.5" y="173.47" width="17.7" height="4.55" fill="#00ffff"/>
<rect x="669.5" y="169.23" width="17.7" height="4.55" fill="#10ffef"/>
<rect x="669.5" y="164.98" width="17.7" height="4.55" fill="#20ffdf"/>
<rect x="669.5" y="160.73" width="17.7" height="4.55" fill="#30ffcf"/>
<rect x="669.5" y="156.49" width="17.7" height="4.55" fill="#40ffbf"/>
<rect x="669.5" y="152.24" width="17.7" height="4.55" fill="#50ffaf"/>
<rect x="669.5" y="147.99" width="17.7" height="4.55" fill="#60ff9f"/>
<rect x="669.5" y="143.75" width="17.7" height="4.55" fill="#70ff8f"/>
<rect x="669.5" y="139.50" width="17.7" height="4.55" fill="#80ff80"/>
<rect x="669.5" y="135.25" width="17.7" height="4.55" fill="#8fff70"/>
<rect x="669.5" y="131.01" width="17.7" height="4.55" fill="#9fff60"/>
<rect x="669.5" y="126.76" width="17.7" height="4.55" fill="#afff50"/>
<rect x="669.5" y="122.51" width="17.7" height="4.55" fill="#bfff40"/>
<rect x="669.5" y="118.27" width="17.7" height="4.55" fill="#cfff30"/>
<rect x="669.5" y="114.02" width="17.7" height="4.55" fill="#dfff20"/>
<rect x="669.5" y="109.77" width="17.7" height="4.55" fill="#efff10"/>
<rect x="669.5" y="105.53" width="17.7" height="4.55" fill="#ffff00"/>
<rect x="669.5" y="101.28" width="17.7" height="4.55" fill="#ffef00"/>
<rect x="669.5" y="97.03" width="17.7" height="4.55" fill="#ffdf00"/>
<rect x="669.5" y="92.78" width="17.7" height="4.55" fill="#ffcf00"/>
<rect x="669.5" y="88.54" width="17.7" height="4.55" fill="#ffbf00"/>
<rect x="669.5" y="84.29" width="17.7" height="4.55" fill="#ffaf00"/>
<rect x="669.5" y="80.04" width="17.7" height="4.55" fill="#ff9f00"/>
<rect x="669.5" y="75.80" width="17.7" height="4.55" fill="#ff8f00"/>
<rect x="669.5" y="71.55" width="17.7" height="4.55" fill="#ff8000"/>
<rect x="669.5" y="67.30" width="17.7" height="4.55" fill="#ff7000"/>
<rect x="669.5" y="63.06" width="17.7" height="4.55" fill="#ff6000"/>
<rect x="669.5" y="58.81" width="17.7" height="4.55" fill="#ff5000"/>
<rect x="669.5" y="54.56" width="17.7" height="4.55" fill="#ff4000"/>
<rect x="669.5" y="50.32" width="17.7" height="4.55" fill="#ff3000"/>
<rect x="669.5" y="46.07" width="17.7" height="4.55" fill="#ff2000"/>
<rect x="669.5" y="41.82" width="17.7" height="4.55" fill="#ff1000"/>
<rect x="669.5" y="37.58" width="17.7" height="4.55" fill="#ff0000"/>
<rect x="669.5" y="33.33" width="17.7" height="4.55" fill="#ef0000"/>
<rect x="669.5" y="29.08" width="17.7" height="4.55" fill="#df0000"/>
<rect x="669.5" y="24.83" width="17.7" height="4.55" fill="#cf0000"/>
<rect x="669.5" y="20.59" width="17.7" height="4.55" fill="#bf0000"/>
<rect x="669.5" y="16.34" width="17.7" height="4.55" fill="#af0000"/>
<rect x="669.5" y="12.09" width="17.7" height="4.55" fill="#9f0000"/>
<rect x="669.5" y="7.85" width="17.7" height="4.55" fill="#8f0000"/>
<rect x="669.5" y="3.60" width="17.7" height="4.55" fill="#800000"/>
<rect x="669.5" y="3.6" width="17.7" height="271.79999999999995" fill="none" stroke="#000" stroke-opacity="0.45" stroke-width="1"/>
<line x1="687.2" y1="222.2" x2="684.7" y2="222.2" stroke="#000" stroke-opacity="0.6"/>
<line x1="687.2" y1="167.9" x2="684.7" y2="167.9" stroke="#000" stroke-opacity="0.6"/>
<line x1="687.2" y1="113.6" x2="684.7" y2="113.6" stroke="#000" stroke-opacity="0.6"/>
<line x1="687.2" y1="59.3" x2="684.7" y2="59.3" stroke="#000" stroke-opacity="0.6"/>
</g>
<g font-family="'Liberation Serif', 'Times New Roman', serif" fill="#000">
<text transform="translate(412.7,300.0) scale(0.71,1)" font-size="21.4" text-anchor="middle" font-weight="bold" stroke="#000" stroke-width="0.55">30</text>
<text transform="translate(436.6,300.0) scale(0.71,1)" font-size="21.4" text-anchor="middle" font-weight="bold" stroke="#000" stroke-width="0.55">31</text>
<text transform="translate(460.6,300.0) scale(0.71,1)" font-size="21.4" text-anchor="middle" font-weight="bold" stroke="#000" stroke-width="0.55">32</text>
<text transform="translate(484.5,300.0) scale(0.71,1)" font-size="21.4" text-anchor="middle" font-weight="bold" stroke="#000" stroke-width="0.55">33</text>
<text transform="translate(508.4,300.0) scale(0.71,1)" font-size="21.4" text-anchor="middle" font-weight="bold" stroke="#000" stroke-width="0.55">34</text>
<text transform="translate(532.4,300.0) scale(0.71,1)" font-size="21.4" text-anchor="middle" font-weight="bold" stroke="#000" stroke-width="0.55">35</text>
<text transform="translate(556.3,300.0) scale(0.71,1)" font-size="21.4" text-anchor="middle" font-weight="bold" stroke="#000" stroke-width="0.55">36</text>
<text transform="translate(580.2,300.0) scale(0.71,1)" font-size="21.4" text-anchor="middle" font-weight="bold" stroke="#000" stroke-width="0.55">37</text>
<text transform="translate(604.1,300.0) scale(0.71,1)" font-size="21.4" text-anchor="middle" font-weight="bold" stroke="#000" stroke-width="0.55">38</text>
<text transform="translate(628.1,300.0) scale(0.71,1)" font-size="21.4" text-anchor="middle" font-weight="bold" stroke="#000" stroke-width="0.55">39</text>
<text transform="translate(652.0,300.0) scale(0.71,1)" font-size="21.4" text-anchor="middle" font-weight="bold" stroke="#000" stroke-width="0.55">40</text>
<text transform="translate(408.0,20.3) scale(0.755,1)" font-size="21" text-anchor="end" font-weight="bold" stroke="#000" stroke-width="0.5">75</text>
<text transform="translate(408.0,92.1) scale(0.755,1)" font-size="21" text-anchor="end" font-weight="bold" stroke="#000" stroke-width="0.5">50</text>
<text transform="translate(408.0,182.3) scale(0.755,1)" font-size="21" text-anchor="end" font-weight="bold" stroke="#000" stroke-width="0.5">25</text>
<text transform="translate(408.0,273.1) scale(0.755,1)" font-size="21" text-anchor="end" font-weight="bold" stroke="#000" stroke-width="0.5">0</text>
<text transform="translate(691.5,65.1) scale(0.69,1)" font-size="19.5" text-anchor="start" font-weight="bold" stroke="#000" stroke-width="0.5">0.8</text>
<text transform="translate(691.5,119.4) scale(0.69,1)" font-size="19.5" text-anchor="start" font-weight="bold" stroke="#000" stroke-width="0.5">0.6</text>
<text transform="translate(691.5,173.7) scale(0.69,1)" font-size="19.5" text-anchor="start" font-weight="bold" stroke="#000" stroke-width="0.5">0.4</text>
<text transform="translate(691.5,228.0) scale(0.69,1)" font-size="19.5" text-anchor="start" font-weight="bold" stroke="#000" stroke-width="0.5">0.2</text>
<text transform="translate(532.8,332.3) scale(0.789,1)" font-size="27.6" text-anchor="middle" font-weight="bold" stroke="#000" stroke-width="0.35">Frequency(THz)</text>
<text transform="translate(385.8,139.5) rotate(-90) scale(1.208,1)" font-size="23.4" text-anchor="middle" font-weight="bold" stroke="#000" stroke-width="0.35">Incident Angle(deg)</text>
<text transform="translate(538.0,383.6) scale(1.0,1)" font-size="24.8" text-anchor="middle" font-weight="bold" stroke="#000" stroke-width="0.35">(b)</text>
</g>
</svg>
</body></html>
